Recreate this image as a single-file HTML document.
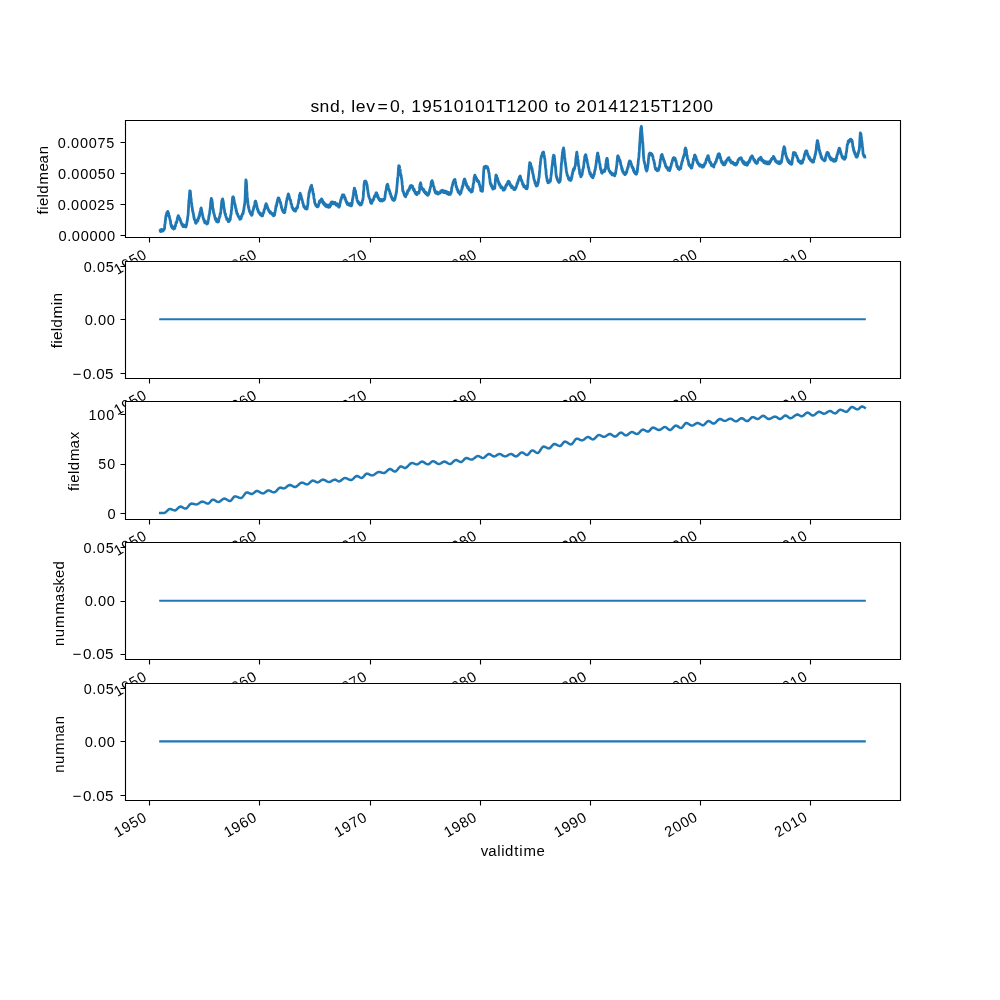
<!DOCTYPE html>
<html><head><meta charset="utf-8"><title>snd, lev=0, 19510101T1200 to 20141215T1200</title><style>html,body{margin:0;padding:0;background:#fff;overflow:hidden}svg{display:block;will-change:transform}text{font-family:"Liberation Sans",sans-serif;fill:#000}</style></head><body>
<svg width="1000" height="1000" viewBox="0 0 1000 1000" font-family="'Liberation Sans', sans-serif">
<rect width="1000" height="1000" fill="#fff"/>
<g>
<rect x="125" y="120" width="775" height="117.24" fill="#fff"/>
<clipPath id="c0"><rect x="125" y="120" width="775" height="117.24"/></clipPath>
<path clip-path="url(#c0)" d="M160.2 230.5 L160.4 231.5 L160.7 229.7 L160.9 231.5 L161.1 230.1 L161.3 230.3 L161.5 231.2 L161.7 230.3 L161.9 230.6 L162.1 229.4 L162.3 231.0 L162.6 230.5 L162.8 230.0 L163.0 231.0 L163.2 230.0 L163.4 230.3 L163.6 229.5 L163.8 230.1 L164.0 229.6 L164.2 229.1 L164.5 228.8 L164.7 225.9 L164.9 224.2 L165.1 223.2 L165.3 221.3 L165.5 219.5 L165.7 218.0 L165.9 216.4 L166.1 215.2 L166.4 216.0 L166.6 214.2 L166.8 212.6 L167.0 213.1 L167.2 213.0 L167.4 212.5 L167.6 213.1 L167.8 211.4 L168.0 212.8 L168.3 213.1 L168.5 212.8 L168.7 214.6 L168.9 215.8 L169.1 215.9 L169.3 215.9 L169.5 217.8 L169.7 217.9 L169.9 218.9 L170.2 220.5 L170.4 220.4 L170.6 223.0 L170.8 223.8 L171.0 225.1 L171.2 224.6 L171.4 226.5 L171.6 225.5 L171.8 225.6 L172.1 227.6 L172.3 227.9 L172.5 228.2 L172.7 227.5 L172.9 227.3 L173.1 226.9 L173.3 228.4 L173.5 228.7 L173.7 229.0 L174.0 227.8 L174.2 227.6 L174.4 228.4 L174.6 228.4 L174.8 228.3 L175.0 226.0 L175.2 226.1 L175.4 226.3 L175.6 224.6 L175.9 224.2 L176.1 222.3 L176.3 223.0 L176.5 223.0 L176.7 222.1 L176.9 221.4 L177.1 220.0 L177.3 218.3 L177.5 218.6 L177.8 216.7 L178.0 217.6 L178.2 215.7 L178.4 217.5 L178.6 216.2 L178.8 217.0 L179.0 217.2 L179.2 218.5 L179.4 217.8 L179.7 218.8 L179.9 218.5 L180.1 219.6 L180.3 220.4 L180.5 220.1 L180.7 221.7 L180.9 221.6 L181.1 222.8 L181.3 223.1 L181.6 223.1 L181.8 224.5 L182.0 224.4 L182.2 225.2 L182.4 224.5 L182.6 225.3 L182.8 224.7 L183.0 226.6 L183.2 225.0 L183.5 225.2 L183.7 224.9 L183.9 225.3 L184.1 226.5 L184.3 226.5 L184.5 225.3 L184.7 225.9 L184.9 226.0 L185.1 226.6 L185.4 226.2 L185.6 226.5 L185.8 227.0 L186.0 226.8 L186.2 225.8 L186.4 225.5 L186.6 224.6 L186.8 222.9 L187.0 221.9 L187.3 220.6 L187.5 219.1 L187.7 217.3 L187.9 216.1 L188.1 215.0 L188.3 211.6 L188.5 208.1 L188.7 204.4 L188.9 200.9 L189.2 199.1 L189.4 196.1 L189.6 193.4 L189.8 190.9 L190.0 191.2 L190.2 191.0 L190.4 192.1 L190.6 194.7 L190.8 197.4 L191.1 198.5 L191.3 201.7 L191.5 202.9 L191.7 203.5 L191.9 206.8 L192.1 207.0 L192.3 208.1 L192.5 210.7 L192.7 210.4 L193.0 212.9 L193.2 212.8 L193.4 214.3 L193.6 214.8 L193.8 217.0 L194.0 216.8 L194.2 219.0 L194.4 219.0 L194.6 220.0 L194.9 220.3 L195.1 220.5 L195.3 221.2 L195.5 222.8 L195.7 221.5 L195.9 223.4 L196.1 222.9 L196.3 221.9 L196.5 222.4 L196.8 221.6 L197.0 221.3 L197.2 221.2 L197.4 219.8 L197.6 220.4 L197.8 221.0 L198.0 219.0 L198.2 219.5 L198.4 218.3 L198.7 217.2 L198.9 218.2 L199.1 215.7 L199.3 215.6 L199.5 216.1 L199.7 213.3 L199.9 213.4 L200.1 211.7 L200.3 211.1 L200.6 209.8 L200.8 208.6 L201.0 209.3 L201.2 207.9 L201.4 209.4 L201.6 210.2 L201.8 211.6 L202.0 212.0 L202.2 213.3 L202.5 215.0 L202.7 215.3 L202.9 217.0 L203.1 217.3 L203.3 218.6 L203.5 219.0 L203.7 219.4 L203.9 219.4 L204.1 221.1 L204.4 220.4 L204.6 220.5 L204.8 222.8 L205.0 222.1 L205.2 222.8 L205.4 222.4 L205.6 222.8 L205.8 221.6 L206.0 222.1 L206.3 223.3 L206.5 223.2 L206.7 222.4 L206.9 224.2 L207.1 222.5 L207.3 223.3 L207.5 222.5 L207.7 223.5 L207.9 222.0 L208.2 220.7 L208.4 219.4 L208.6 218.4 L208.8 217.0 L209.0 216.3 L209.2 214.7 L209.4 214.5 L209.6 213.1 L209.8 211.2 L210.1 209.1 L210.3 207.5 L210.5 205.8 L210.7 202.0 L210.9 200.6 L211.1 199.9 L211.3 198.5 L211.5 199.4 L211.7 199.2 L212.0 200.3 L212.2 201.9 L212.4 203.3 L212.6 206.6 L212.8 208.1 L213.0 209.3 L213.2 209.2 L213.4 211.2 L213.6 212.9 L213.9 212.9 L214.1 214.5 L214.3 214.6 L214.5 215.6 L214.7 216.6 L214.9 217.6 L215.1 218.1 L215.3 219.4 L215.5 218.6 L215.8 218.3 L216.0 220.3 L216.2 219.0 L216.4 219.3 L216.6 221.5 L216.8 221.2 L217.0 220.5 L217.2 220.2 L217.4 220.9 L217.7 220.9 L217.9 222.1 L218.1 221.1 L218.3 220.2 L218.5 221.7 L218.7 220.6 L218.9 218.9 L219.1 218.2 L219.3 218.1 L219.6 216.4 L219.8 216.7 L220.0 215.7 L220.2 213.4 L220.4 214.1 L220.6 213.0 L220.8 211.9 L221.0 209.5 L221.2 207.6 L221.5 204.4 L221.7 202.1 L221.9 200.4 L222.1 201.0 L222.3 199.3 L222.5 199.7 L222.7 198.8 L222.9 200.7 L223.1 200.7 L223.4 202.6 L223.6 204.6 L223.8 206.8 L224.0 208.1 L224.2 209.0 L224.4 209.9 L224.6 211.3 L224.8 213.1 L225.0 213.0 L225.3 214.8 L225.5 213.9 L225.7 215.5 L225.9 216.6 L226.1 217.4 L226.3 217.1 L226.5 217.8 L226.7 219.4 L226.9 219.1 L227.2 219.3 L227.4 218.5 L227.6 218.8 L227.8 219.4 L228.0 219.5 L228.2 221.6 L228.4 219.7 L228.6 220.7 L228.8 220.1 L229.1 221.5 L229.3 220.3 L229.5 220.4 L229.7 220.2 L229.9 220.1 L230.1 219.8 L230.3 219.2 L230.5 216.6 L230.7 215.2 L231.0 214.8 L231.2 213.0 L231.4 210.0 L231.6 210.0 L231.8 208.0 L232.0 204.1 L232.2 202.6 L232.4 199.3 L232.6 197.6 L232.9 196.9 L233.1 196.8 L233.3 197.0 L233.5 197.7 L233.7 197.8 L233.9 200.0 L234.1 200.0 L234.3 202.6 L234.5 202.8 L234.8 203.5 L235.0 204.2 L235.2 205.7 L235.4 206.4 L235.6 207.9 L235.8 208.6 L236.0 208.5 L236.2 211.1 L236.4 210.2 L236.7 212.7 L236.9 213.3 L237.1 214.1 L237.3 214.1 L237.5 213.5 L237.7 214.7 L237.9 215.2 L238.1 216.1 L238.3 216.0 L238.6 217.1 L238.8 216.5 L239.0 217.1 L239.2 217.8 L239.4 217.8 L239.6 217.3 L239.8 219.3 L240.0 218.7 L240.2 219.0 L240.5 217.8 L240.7 218.9 L240.9 218.4 L241.1 218.5 L241.3 216.4 L241.5 216.7 L241.7 216.0 L241.9 216.1 L242.1 214.8 L242.4 213.9 L242.6 214.2 L242.8 213.9 L243.0 212.8 L243.2 213.4 L243.4 211.3 L243.6 210.1 L243.8 210.1 L244.0 208.0 L244.3 206.1 L244.5 204.4 L244.7 204.1 L244.9 202.1 L245.1 198.9 L245.3 193.3 L245.5 188.6 L245.7 182.4 L245.9 179.9 L246.2 180.8 L246.4 182.5 L246.6 185.4 L246.8 190.4 L247.0 192.5 L247.2 196.9 L247.4 198.3 L247.6 200.2 L247.8 202.0 L248.1 205.2 L248.3 205.9 L248.5 207.5 L248.7 206.8 L248.9 209.2 L249.1 209.6 L249.3 210.3 L249.5 211.6 L249.7 211.3 L250.0 212.3 L250.2 212.3 L250.4 213.1 L250.6 213.9 L250.8 213.4 L251.0 214.0 L251.2 214.5 L251.4 214.7 L251.6 215.4 L251.9 214.8 L252.1 214.2 L252.3 214.4 L252.5 212.2 L252.7 211.2 L252.9 211.1 L253.1 209.6 L253.3 209.7 L253.5 208.8 L253.8 207.0 L254.0 207.6 L254.2 206.4 L254.4 205.2 L254.6 205.3 L254.8 204.2 L255.0 202.0 L255.2 201.3 L255.4 202.6 L255.7 201.1 L255.9 202.8 L256.1 202.5 L256.3 203.5 L256.5 204.9 L256.7 206.7 L256.9 205.7 L257.1 207.0 L257.3 209.1 L257.6 208.9 L257.8 209.2 L258.0 211.1 L258.2 210.1 L258.4 211.5 L258.6 212.5 L258.8 212.4 L259.0 212.7 L259.2 213.0 L259.5 213.5 L259.7 212.6 L259.9 213.7 L260.1 214.3 L260.3 214.7 L260.5 214.9 L260.7 215.1 L260.9 213.6 L261.2 214.4 L261.4 214.7 L261.6 215.8 L261.8 214.9 L262.0 214.7 L262.2 214.2 L262.4 214.8 L262.6 215.9 L262.8 213.9 L263.1 213.7 L263.3 213.4 L263.5 213.1 L263.7 211.8 L263.9 212.1 L264.1 209.8 L264.3 209.7 L264.5 209.5 L264.7 209.1 L265.0 208.2 L265.2 205.8 L265.4 206.5 L265.6 205.6 L265.8 204.7 L266.0 203.7 L266.2 204.1 L266.4 205.6 L266.6 204.6 L266.9 205.6 L267.1 206.1 L267.3 207.8 L267.5 207.5 L267.7 207.5 L267.9 208.5 L268.1 208.8 L268.3 210.0 L268.5 209.5 L268.8 210.6 L269.0 210.6 L269.2 211.7 L269.4 211.7 L269.6 211.2 L269.8 211.7 L270.0 211.9 L270.2 213.1 L270.4 211.7 L270.7 212.5 L270.9 213.0 L271.1 212.9 L271.3 213.5 L271.5 213.4 L271.7 213.4 L271.9 214.2 L272.1 213.6 L272.3 214.3 L272.6 214.7 L272.8 213.6 L273.0 214.1 L273.2 215.6 L273.4 215.7 L273.6 215.8 L273.8 213.8 L274.0 215.5 L274.2 215.5 L274.5 215.0 L274.7 213.8 L274.9 212.8 L275.1 211.9 L275.3 210.4 L275.5 209.8 L275.7 208.2 L275.9 206.7 L276.1 205.6 L276.4 206.5 L276.6 205.3 L276.8 203.1 L277.0 203.6 L277.2 201.5 L277.4 201.4 L277.6 200.0 L277.8 199.1 L278.0 198.5 L278.3 197.9 L278.5 197.8 L278.7 197.8 L278.9 198.1 L279.1 200.0 L279.3 199.8 L279.5 199.4 L279.7 200.9 L279.9 201.5 L280.2 202.0 L280.4 202.0 L280.6 203.1 L280.8 204.7 L281.0 204.4 L281.2 205.6 L281.4 207.4 L281.6 206.8 L281.8 208.7 L282.1 208.9 L282.3 210.2 L282.5 209.7 L282.7 210.4 L282.9 210.3 L283.1 211.6 L283.3 212.0 L283.5 211.6 L283.7 212.5 L284.0 212.1 L284.2 212.5 L284.4 212.7 L284.6 211.3 L284.8 212.4 L285.0 210.4 L285.2 209.6 L285.4 207.7 L285.6 207.7 L285.9 205.3 L286.1 204.7 L286.3 202.5 L286.5 201.7 L286.7 200.9 L286.9 199.6 L287.1 198.1 L287.3 198.7 L287.5 198.1 L287.8 195.7 L288.0 194.8 L288.2 194.7 L288.4 193.8 L288.6 195.1 L288.8 194.7 L289.0 195.6 L289.2 196.9 L289.4 197.6 L289.7 198.6 L289.9 199.5 L290.1 199.6 L290.3 200.2 L290.5 200.0 L290.7 200.9 L290.9 202.6 L291.1 204.2 L291.3 204.2 L291.6 204.1 L291.8 205.4 L292.0 207.3 L292.2 206.6 L292.4 207.2 L292.6 207.7 L292.8 208.7 L293.0 209.5 L293.2 208.4 L293.5 209.5 L293.7 209.6 L293.9 209.6 L294.1 210.1 L294.3 210.8 L294.5 209.6 L294.7 210.3 L294.9 209.4 L295.1 210.3 L295.4 210.8 L295.6 211.1 L295.8 209.8 L296.0 209.1 L296.2 209.4 L296.4 208.6 L296.6 207.6 L296.8 208.1 L297.0 208.2 L297.3 207.9 L297.5 207.5 L297.7 205.6 L297.9 204.8 L298.1 203.8 L298.3 203.5 L298.5 203.0 L298.7 200.2 L298.9 199.9 L299.2 197.9 L299.4 195.4 L299.6 195.1 L299.8 194.7 L300.0 194.7 L300.2 193.1 L300.4 194.9 L300.6 195.4 L300.8 194.9 L301.1 195.9 L301.3 198.2 L301.5 197.8 L301.7 198.5 L301.9 200.2 L302.1 199.5 L302.3 201.0 L302.5 201.4 L302.7 202.5 L303.0 203.4 L303.2 204.2 L303.4 204.4 L303.6 206.0 L303.8 206.5 L304.0 207.2 L304.2 206.5 L304.4 207.4 L304.6 207.0 L304.9 206.8 L305.1 207.8 L305.3 208.6 L305.5 208.4 L305.7 207.4 L305.9 207.4 L306.1 208.7 L306.3 208.6 L306.5 209.0 L306.8 207.5 L307.0 209.1 L307.2 207.9 L307.4 206.7 L307.6 205.4 L307.8 205.1 L308.0 203.1 L308.2 199.1 L308.4 197.6 L308.7 196.7 L308.9 193.7 L309.1 192.6 L309.3 191.7 L309.5 192.6 L309.7 190.5 L309.9 189.6 L310.1 189.8 L310.3 188.0 L310.6 188.2 L310.8 186.9 L311.0 186.3 L311.2 186.1 L311.4 185.5 L311.6 185.3 L311.8 187.4 L312.0 188.1 L312.2 188.0 L312.5 189.6 L312.7 191.2 L312.9 191.3 L313.1 193.3 L313.3 194.6 L313.5 194.1 L313.7 195.3 L313.9 197.9 L314.1 199.1 L314.4 199.3 L314.6 202.0 L314.8 203.1 L315.0 203.1 L315.2 204.0 L315.4 204.0 L315.6 205.0 L315.8 204.5 L316.0 205.7 L316.3 206.0 L316.5 206.1 L316.7 205.1 L316.9 206.4 L317.1 206.8 L317.3 205.5 L317.5 206.5 L317.7 206.9 L317.9 205.2 L318.2 206.3 L318.4 205.9 L318.6 204.8 L318.8 204.5 L319.0 202.6 L319.2 202.9 L319.4 203.1 L319.6 200.8 L319.8 202.2 L320.1 200.6 L320.3 201.5 L320.5 200.8 L320.7 200.9 L320.9 199.8 L321.1 199.7 L321.3 200.7 L321.5 198.8 L321.7 199.0 L322.0 201.1 L322.2 201.3 L322.4 200.0 L322.6 202.3 L322.8 201.2 L323.0 203.1 L323.2 203.5 L323.4 201.9 L323.6 202.1 L323.9 203.0 L324.1 204.6 L324.3 204.5 L324.5 203.8 L324.7 205.0 L324.9 204.0 L325.1 204.3 L325.3 204.1 L325.5 206.0 L325.8 205.8 L326.0 205.2 L326.2 204.8 L326.4 206.5 L326.6 205.3 L326.8 205.0 L327.0 205.5 L327.2 206.3 L327.4 206.5 L327.7 205.1 L327.9 207.0 L328.1 206.5 L328.3 205.2 L328.5 206.9 L328.7 207.3 L328.9 207.0 L329.1 205.2 L329.3 206.2 L329.6 206.5 L329.8 207.0 L330.0 205.8 L330.2 204.5 L330.4 205.8 L330.6 205.4 L330.8 203.8 L331.0 202.5 L331.2 203.9 L331.5 203.5 L331.7 204.0 L331.9 201.9 L332.1 202.9 L332.3 202.6 L332.5 202.2 L332.7 203.6 L332.9 202.8 L333.1 202.1 L333.4 202.4 L333.6 203.9 L333.8 203.5 L334.0 202.7 L334.2 203.8 L334.4 202.6 L334.6 203.8 L334.8 203.9 L335.0 202.5 L335.3 203.7 L335.5 204.3 L335.7 204.4 L335.9 204.4 L336.1 204.9 L336.3 204.7 L336.5 205.3 L336.7 204.3 L336.9 203.7 L337.2 204.3 L337.4 204.7 L337.6 204.4 L337.8 204.7 L338.0 205.8 L338.2 205.4 L338.4 205.6 L338.6 206.8 L338.8 207.1 L339.1 207.1 L339.3 205.8 L339.5 206.1 L339.7 205.8 L339.9 203.5 L340.1 202.7 L340.3 202.8 L340.5 201.1 L340.7 200.1 L341.0 199.8 L341.2 198.5 L341.4 198.7 L341.6 197.2 L341.8 197.0 L342.0 196.3 L342.2 195.9 L342.4 195.0 L342.6 195.4 L342.9 195.7 L343.1 194.9 L343.3 196.2 L343.5 196.3 L343.7 195.3 L343.9 195.0 L344.1 197.0 L344.3 196.2 L344.5 196.8 L344.8 197.7 L345.0 199.0 L345.2 197.9 L345.4 198.8 L345.6 199.8 L345.8 200.6 L346.0 200.2 L346.2 201.7 L346.4 202.1 L346.7 202.9 L346.9 202.0 L347.1 202.2 L347.3 204.3 L347.5 204.1 L347.7 204.2 L347.9 204.6 L348.1 204.8 L348.3 203.7 L348.6 204.6 L348.8 204.4 L349.0 204.3 L349.2 204.7 L349.4 204.0 L349.6 205.3 L349.8 204.3 L350.0 203.8 L350.2 203.6 L350.5 205.0 L350.7 204.1 L350.9 205.8 L351.1 204.1 L351.3 204.4 L351.5 205.9 L351.7 204.5 L351.9 204.6 L352.1 203.2 L352.4 200.4 L352.6 199.1 L352.8 198.1 L353.0 197.9 L353.2 195.4 L353.4 194.2 L353.6 192.7 L353.8 190.9 L354.0 190.6 L354.3 188.1 L354.5 188.1 L354.7 189.6 L354.9 189.6 L355.1 190.1 L355.3 190.6 L355.5 191.1 L355.7 192.8 L355.9 194.9 L356.2 194.8 L356.4 195.7 L356.6 197.6 L356.8 198.4 L357.0 199.7 L357.2 200.6 L357.4 200.8 L357.6 200.7 L357.8 202.0 L358.1 201.7 L358.3 203.0 L358.5 201.8 L358.7 202.8 L358.9 203.8 L359.1 203.2 L359.3 203.7 L359.5 202.8 L359.7 203.4 L360.0 205.0 L360.2 204.4 L360.4 203.9 L360.6 204.3 L360.8 204.9 L361.0 204.9 L361.2 204.9 L361.4 203.5 L361.6 203.0 L361.9 203.4 L362.1 202.6 L362.3 202.0 L362.5 200.5 L362.7 199.9 L362.9 199.9 L363.1 197.9 L363.3 196.4 L363.5 191.8 L363.8 190.4 L364.0 185.5 L364.2 183.4 L364.4 182.8 L364.6 181.2 L364.8 181.1 L365.0 182.9 L365.2 182.8 L365.4 182.1 L365.7 181.2 L365.9 182.6 L366.1 182.0 L366.3 182.1 L366.5 184.0 L366.7 183.8 L366.9 184.3 L367.1 184.8 L367.3 187.0 L367.6 189.7 L367.8 190.1 L368.0 191.7 L368.2 193.7 L368.4 194.1 L368.6 195.5 L368.8 196.8 L369.0 196.4 L369.2 197.6 L369.5 198.5 L369.7 198.7 L369.9 199.0 L370.1 199.4 L370.3 200.9 L370.5 202.2 L370.7 200.6 L370.9 202.7 L371.1 203.2 L371.4 202.4 L371.6 203.3 L371.8 202.6 L372.0 202.1 L372.2 201.6 L372.4 201.3 L372.6 201.3 L372.8 199.9 L373.0 200.5 L373.3 199.5 L373.5 199.4 L373.7 199.6 L373.9 197.6 L374.1 197.6 L374.3 196.9 L374.5 196.0 L374.7 196.7 L374.9 196.3 L375.2 196.6 L375.4 195.3 L375.6 194.4 L375.8 195.2 L376.0 192.9 L376.2 193.4 L376.4 194.3 L376.6 193.0 L376.8 193.7 L377.1 195.2 L377.3 194.6 L377.5 194.9 L377.7 197.0 L377.9 195.8 L378.1 198.1 L378.3 197.3 L378.5 197.4 L378.7 198.3 L379.0 198.5 L379.2 199.8 L379.4 199.6 L379.6 199.1 L379.8 199.6 L380.0 199.2 L380.2 200.8 L380.4 199.6 L380.6 200.8 L380.9 200.3 L381.1 200.9 L381.3 199.7 L381.5 199.8 L381.7 199.7 L381.9 200.7 L382.1 201.0 L382.3 200.7 L382.5 199.8 L382.8 200.7 L383.0 200.4 L383.2 199.9 L383.4 199.2 L383.6 199.3 L383.8 200.3 L384.0 199.1 L384.2 199.7 L384.4 199.7 L384.7 198.6 L384.9 197.5 L385.1 195.6 L385.3 194.1 L385.5 192.7 L385.7 191.5 L385.9 190.8 L386.1 190.4 L386.3 188.7 L386.6 186.7 L386.8 185.6 L387.0 185.0 L387.2 185.4 L387.4 185.1 L387.6 184.1 L387.8 185.5 L388.0 185.4 L388.3 187.5 L388.5 188.3 L388.7 188.3 L388.9 189.5 L389.1 190.1 L389.3 191.1 L389.5 190.6 L389.7 191.1 L389.9 192.9 L390.2 194.0 L390.4 193.1 L390.6 194.5 L390.8 195.2 L391.0 195.4 L391.2 196.9 L391.4 196.1 L391.6 197.1 L391.8 197.6 L392.1 199.1 L392.3 198.8 L392.5 199.1 L392.7 200.0 L392.9 198.5 L393.1 199.6 L393.3 198.7 L393.5 198.9 L393.7 200.2 L394.0 200.5 L394.2 200.0 L394.4 199.7 L394.6 199.8 L394.8 199.7 L395.0 198.9 L395.2 197.9 L395.4 196.2 L395.6 196.0 L395.9 193.9 L396.1 194.3 L396.3 191.8 L396.5 192.1 L396.7 189.2 L396.9 187.2 L397.1 185.1 L397.3 182.9 L397.5 179.6 L397.8 177.2 L398.0 176.2 L398.2 174.0 L398.4 169.5 L398.6 167.6 L398.8 165.7 L399.0 165.9 L399.2 165.9 L399.4 166.2 L399.7 168.2 L399.9 169.1 L400.1 169.7 L400.3 172.4 L400.5 172.9 L400.7 174.9 L400.9 175.3 L401.1 175.2 L401.3 177.6 L401.6 178.5 L401.8 180.1 L402.0 181.9 L402.2 184.7 L402.4 185.6 L402.6 188.6 L402.8 191.1 L403.0 190.4 L403.2 191.0 L403.5 192.2 L403.7 193.1 L403.9 193.3 L404.1 194.0 L404.3 194.9 L404.5 195.6 L404.7 194.3 L404.9 195.2 L405.1 195.9 L405.4 194.7 L405.6 196.8 L405.8 196.0 L406.0 195.5 L406.2 195.1 L406.4 194.1 L406.6 193.5 L406.8 194.3 L407.0 194.3 L407.3 193.5 L407.5 191.3 L407.7 190.8 L407.9 191.3 L408.1 190.9 L408.3 190.6 L408.5 190.8 L408.7 190.5 L408.9 190.3 L409.2 188.5 L409.4 188.3 L409.6 189.1 L409.8 188.1 L410.0 186.3 L410.2 187.8 L410.4 186.8 L410.6 185.6 L410.8 185.7 L411.1 186.0 L411.3 186.1 L411.5 185.5 L411.7 186.3 L411.9 186.0 L412.1 187.2 L412.3 187.3 L412.5 186.1 L412.7 186.5 L413.0 188.6 L413.2 188.5 L413.4 189.8 L413.6 189.1 L413.8 188.9 L414.0 189.0 L414.2 191.0 L414.4 189.9 L414.6 191.5 L414.9 191.8 L415.1 192.6 L415.3 193.4 L415.5 192.2 L415.7 193.1 L415.9 194.0 L416.1 193.0 L416.3 192.9 L416.5 193.0 L416.8 194.7 L417.0 194.4 L417.2 193.0 L417.4 192.5 L417.6 193.7 L417.8 192.9 L418.0 192.5 L418.2 192.3 L418.4 192.6 L418.7 192.1 L418.9 193.2 L419.1 192.0 L419.3 191.6 L419.5 190.0 L419.7 188.0 L419.9 185.3 L420.1 184.2 L420.3 183.8 L420.6 182.8 L420.8 185.3 L421.0 184.1 L421.2 185.7 L421.4 186.7 L421.6 187.6 L421.8 187.7 L422.0 188.4 L422.2 189.1 L422.5 189.1 L422.7 189.5 L422.9 190.2 L423.1 188.8 L423.3 190.1 L423.5 189.3 L423.7 189.8 L423.9 189.8 L424.1 191.9 L424.4 190.9 L424.6 191.6 L424.8 192.4 L425.0 192.4 L425.2 193.1 L425.4 192.4 L425.6 193.1 L425.8 193.7 L426.0 192.3 L426.3 193.3 L426.5 192.7 L426.7 193.9 L426.9 193.6 L427.1 194.9 L427.3 194.2 L427.5 193.7 L427.7 195.4 L427.9 194.5 L428.2 193.7 L428.4 194.3 L428.6 194.5 L428.8 193.5 L429.0 193.2 L429.2 192.7 L429.4 191.9 L429.6 191.1 L429.8 189.7 L430.1 188.6 L430.3 187.9 L430.5 186.8 L430.7 186.8 L430.9 185.9 L431.1 183.1 L431.3 182.4 L431.5 181.4 L431.7 181.2 L432.0 180.6 L432.2 181.3 L432.4 181.4 L432.6 182.2 L432.8 182.6 L433.0 183.4 L433.2 185.4 L433.4 185.8 L433.6 186.3 L433.9 187.1 L434.1 187.2 L434.3 189.8 L434.5 190.0 L434.7 189.8 L434.9 191.4 L435.1 191.7 L435.3 191.5 L435.5 193.0 L435.8 193.2 L436.0 192.4 L436.2 192.4 L436.4 191.9 L436.6 191.9 L436.8 192.5 L437.0 192.3 L437.2 192.1 L437.4 193.6 L437.7 194.1 L437.9 193.6 L438.1 194.1 L438.3 194.1 L438.5 193.6 L438.7 193.3 L438.9 193.0 L439.1 193.3 L439.3 192.8 L439.6 192.4 L439.8 192.9 L440.0 193.1 L440.2 192.8 L440.4 192.9 L440.6 191.8 L440.8 190.8 L441.0 191.1 L441.2 191.1 L441.5 191.5 L441.7 191.0 L441.9 191.6 L442.1 190.6 L442.3 191.1 L442.5 190.1 L442.7 191.7 L442.9 192.1 L443.1 192.2 L443.4 192.3 L443.6 190.8 L443.8 192.6 L444.0 191.8 L444.2 191.0 L444.4 190.9 L444.6 190.9 L444.8 192.3 L445.0 192.3 L445.3 192.7 L445.5 192.5 L445.7 192.3 L445.9 191.6 L446.1 192.9 L446.3 191.4 L446.5 192.9 L446.7 191.9 L446.9 192.0 L447.2 193.7 L447.4 193.9 L447.6 193.5 L447.8 192.5 L448.0 193.1 L448.2 192.9 L448.4 192.5 L448.6 192.9 L448.8 192.5 L449.1 194.6 L449.3 193.1 L449.5 193.4 L449.7 193.2 L449.9 194.1 L450.1 193.9 L450.3 194.4 L450.5 192.7 L450.7 192.9 L451.0 193.1 L451.2 192.1 L451.4 191.5 L451.6 188.7 L451.8 188.0 L452.0 186.9 L452.2 186.1 L452.4 184.9 L452.6 185.1 L452.9 183.1 L453.1 182.4 L453.3 182.3 L453.5 181.3 L453.7 181.4 L453.9 181.4 L454.1 179.9 L454.3 180.4 L454.5 180.4 L454.8 180.3 L455.0 179.3 L455.2 181.5 L455.4 182.2 L455.6 182.3 L455.8 183.9 L456.0 185.6 L456.2 186.8 L456.4 186.3 L456.7 188.0 L456.9 187.8 L457.1 189.5 L457.3 189.9 L457.5 189.3 L457.7 189.8 L457.9 190.5 L458.1 192.1 L458.3 190.7 L458.6 192.0 L458.8 192.6 L459.0 193.0 L459.2 191.9 L459.4 193.2 L459.6 193.1 L459.8 192.9 L460.0 194.3 L460.2 192.3 L460.5 193.4 L460.7 191.9 L460.9 193.1 L461.1 191.6 L461.3 190.8 L461.5 189.7 L461.7 189.6 L461.9 189.6 L462.1 187.2 L462.4 187.8 L462.6 186.0 L462.8 185.4 L463.0 185.8 L463.2 183.1 L463.4 183.5 L463.6 181.1 L463.8 181.2 L464.0 180.7 L464.3 179.1 L464.5 180.4 L464.7 179.2 L464.9 180.1 L465.1 180.0 L465.3 181.8 L465.5 181.4 L465.7 182.2 L465.9 182.4 L466.2 185.0 L466.4 183.7 L466.6 184.7 L466.8 185.9 L467.0 185.6 L467.2 186.5 L467.4 186.4 L467.6 187.9 L467.8 186.6 L468.1 186.6 L468.3 187.1 L468.5 188.4 L468.7 188.8 L468.9 189.6 L469.1 190.1 L469.3 189.1 L469.5 190.2 L469.7 189.5 L470.0 189.7 L470.2 189.4 L470.4 191.2 L470.6 190.2 L470.8 191.1 L471.0 190.9 L471.2 192.1 L471.4 190.6 L471.6 191.4 L471.9 191.9 L472.1 190.6 L472.3 191.5 L472.5 190.0 L472.7 187.7 L472.9 188.1 L473.1 185.3 L473.3 184.0 L473.5 183.3 L473.8 182.3 L474.0 179.0 L474.2 177.1 L474.4 177.1 L474.6 175.9 L474.8 175.1 L475.0 175.6 L475.2 176.5 L475.4 176.7 L475.7 176.6 L475.9 177.9 L476.1 178.5 L476.3 178.8 L476.5 178.0 L476.7 179.5 L476.9 180.1 L477.1 181.1 L477.3 180.6 L477.6 181.1 L477.8 181.6 L478.0 180.5 L478.2 180.7 L478.4 180.9 L478.6 181.4 L478.8 182.1 L479.0 182.1 L479.2 183.9 L479.5 184.6 L479.7 185.3 L479.9 185.3 L480.1 187.4 L480.3 187.4 L480.5 188.0 L480.7 190.3 L480.9 190.9 L481.1 189.1 L481.4 190.5 L481.6 189.2 L481.8 190.4 L482.0 190.5 L482.2 190.5 L482.4 191.4 L482.6 190.1 L482.8 186.8 L483.0 184.6 L483.3 178.7 L483.5 174.7 L483.7 170.7 L483.9 169.1 L484.1 167.0 L484.3 167.4 L484.5 167.4 L484.7 167.5 L484.9 168.1 L485.2 166.6 L485.4 166.6 L485.6 167.2 L485.8 166.2 L486.0 166.8 L486.2 166.3 L486.4 167.0 L486.6 166.9 L486.8 167.3 L487.1 167.0 L487.3 167.0 L487.5 166.9 L487.7 168.8 L487.9 168.5 L488.1 168.7 L488.3 170.2 L488.5 170.6 L488.7 172.4 L489.0 172.8 L489.2 174.3 L489.4 176.6 L489.6 178.1 L489.8 178.5 L490.0 180.8 L490.2 182.8 L490.4 183.7 L490.6 184.2 L490.9 183.6 L491.1 185.7 L491.3 184.6 L491.5 185.6 L491.7 185.5 L491.9 187.0 L492.1 187.7 L492.3 187.9 L492.5 186.7 L492.8 189.0 L493.0 187.6 L493.2 188.5 L493.4 188.9 L493.6 188.6 L493.8 188.1 L494.0 188.1 L494.2 187.2 L494.4 187.7 L494.7 188.3 L494.9 186.5 L495.1 184.2 L495.3 181.7 L495.5 178.5 L495.7 177.9 L495.9 175.4 L496.1 175.1 L496.3 176.4 L496.6 175.7 L496.8 178.1 L497.0 177.9 L497.2 177.6 L497.4 178.1 L497.6 180.1 L497.8 179.5 L498.0 180.1 L498.2 181.4 L498.5 182.0 L498.7 183.3 L498.9 182.2 L499.1 184.4 L499.3 183.8 L499.5 185.3 L499.7 184.2 L499.9 184.3 L500.1 185.6 L500.4 185.5 L500.6 186.4 L500.8 187.4 L501.0 187.8 L501.2 186.3 L501.4 186.9 L501.6 187.3 L501.8 187.2 L502.0 188.1 L502.3 187.4 L502.5 187.9 L502.7 187.8 L502.9 188.8 L503.1 190.0 L503.3 188.4 L503.5 190.1 L503.7 188.9 L503.9 189.8 L504.2 190.0 L504.4 189.4 L504.6 189.4 L504.8 188.9 L505.0 189.1 L505.2 188.4 L505.4 187.1 L505.6 186.3 L505.8 185.6 L506.1 185.9 L506.3 184.8 L506.5 184.4 L506.7 185.5 L506.9 184.7 L507.1 183.8 L507.3 184.0 L507.5 182.9 L507.7 182.2 L508.0 182.5 L508.2 182.1 L508.4 181.1 L508.6 181.3 L508.8 182.0 L509.0 181.5 L509.2 183.3 L509.4 181.8 L509.6 184.1 L509.9 184.8 L510.1 184.5 L510.3 184.1 L510.5 185.9 L510.7 185.5 L510.9 186.4 L511.1 185.7 L511.3 185.7 L511.5 187.6 L511.8 185.8 L512.0 186.0 L512.2 187.8 L512.4 188.0 L512.6 187.2 L512.8 187.5 L513.0 188.3 L513.2 188.3 L513.5 188.6 L513.7 188.2 L513.9 189.5 L514.1 187.8 L514.3 189.0 L514.5 188.1 L514.7 188.4 L514.9 188.4 L515.1 189.5 L515.4 188.8 L515.6 188.0 L515.8 188.1 L516.0 187.5 L516.2 187.2 L516.4 186.0 L516.6 185.7 L516.8 185.3 L517.0 183.8 L517.3 183.0 L517.5 183.7 L517.7 182.2 L517.9 183.0 L518.1 180.7 L518.3 180.5 L518.5 180.7 L518.7 178.9 L518.9 178.8 L519.2 177.8 L519.4 177.1 L519.6 176.6 L519.8 177.9 L520.0 176.3 L520.2 176.0 L520.4 178.1 L520.6 176.9 L520.8 178.8 L521.1 179.3 L521.3 180.2 L521.5 181.0 L521.7 180.4 L521.9 180.7 L522.1 182.1 L522.3 182.6 L522.5 182.7 L522.7 184.5 L523.0 183.5 L523.2 184.8 L523.4 185.4 L523.6 184.7 L523.8 186.8 L524.0 186.2 L524.2 186.7 L524.4 186.2 L524.6 186.9 L524.9 187.1 L525.1 187.5 L525.3 186.4 L525.5 187.3 L525.7 187.5 L525.9 188.6 L526.1 187.9 L526.3 188.1 L526.5 187.6 L526.8 187.8 L527.0 188.9 L527.2 187.3 L527.4 187.4 L527.6 184.8 L527.8 183.4 L528.0 180.2 L528.2 178.4 L528.4 176.3 L528.7 173.3 L528.9 170.7 L529.1 169.5 L529.3 165.8 L529.5 165.0 L529.7 162.6 L529.9 163.2 L530.1 163.2 L530.3 163.3 L530.6 163.6 L530.8 165.8 L531.0 165.8 L531.2 166.0 L531.4 166.8 L531.6 168.1 L531.8 168.5 L532.0 168.3 L532.2 169.5 L532.5 172.1 L532.7 172.6 L532.9 173.9 L533.1 174.1 L533.3 175.2 L533.5 176.4 L533.7 177.6 L533.9 178.9 L534.1 179.2 L534.4 180.5 L534.6 180.6 L534.8 181.5 L535.0 183.1 L535.2 181.7 L535.4 183.6 L535.6 184.4 L535.8 183.7 L536.0 185.6 L536.3 184.3 L536.5 186.1 L536.7 185.0 L536.9 185.6 L537.1 185.5 L537.3 185.6 L537.5 185.2 L537.7 183.1 L537.9 183.9 L538.2 182.2 L538.4 181.8 L538.6 178.9 L538.8 178.2 L539.0 178.0 L539.2 175.8 L539.4 173.5 L539.6 171.2 L539.8 169.7 L540.1 165.2 L540.3 164.9 L540.5 161.6 L540.7 160.5 L540.9 158.4 L541.1 158.3 L541.3 156.0 L541.5 156.1 L541.7 156.2 L542.0 156.1 L542.2 154.5 L542.4 153.0 L542.6 154.1 L542.8 153.5 L543.0 152.2 L543.2 152.1 L543.4 152.7 L543.6 152.1 L543.9 154.3 L544.1 155.5 L544.3 156.2 L544.5 157.9 L544.7 158.3 L544.9 159.5 L545.1 162.5 L545.3 164.9 L545.5 167.2 L545.8 168.9 L546.0 171.2 L546.2 174.7 L546.4 175.6 L546.6 177.0 L546.8 178.3 L547.0 178.6 L547.2 180.8 L547.4 180.2 L547.7 181.3 L547.9 182.7 L548.1 182.4 L548.3 182.0 L548.5 182.9 L548.7 181.6 L548.9 181.3 L549.1 181.0 L549.3 182.2 L549.6 182.0 L549.8 181.7 L550.0 181.4 L550.2 180.8 L550.4 181.2 L550.6 179.6 L550.8 177.6 L551.0 176.2 L551.2 174.4 L551.5 172.6 L551.7 169.7 L551.9 167.9 L552.1 165.9 L552.3 165.1 L552.5 163.5 L552.7 160.5 L552.9 159.8 L553.1 157.0 L553.4 157.4 L553.6 155.2 L553.8 155.6 L554.0 155.7 L554.2 155.6 L554.4 158.2 L554.6 158.8 L554.8 161.6 L555.0 163.4 L555.3 166.3 L555.5 166.9 L555.7 169.1 L555.9 172.7 L556.1 174.1 L556.3 176.3 L556.5 176.5 L556.7 178.0 L556.9 177.3 L557.2 178.6 L557.4 179.6 L557.6 180.3 L557.8 179.5 L558.0 180.3 L558.2 181.5 L558.4 180.0 L558.6 181.8 L558.8 181.8 L559.1 182.5 L559.3 181.6 L559.5 181.6 L559.7 181.9 L559.9 181.5 L560.1 180.6 L560.3 180.2 L560.5 177.3 L560.7 174.3 L561.0 171.1 L561.2 167.0 L561.4 163.6 L561.6 162.9 L561.8 161.1 L562.0 157.5 L562.2 156.3 L562.4 153.9 L562.6 152.8 L562.9 149.9 L563.1 150.7 L563.3 149.8 L563.5 147.9 L563.7 149.4 L563.9 149.8 L564.1 151.2 L564.3 154.5 L564.5 156.4 L564.8 158.1 L565.0 160.0 L565.2 162.1 L565.4 162.7 L565.6 164.8 L565.8 165.9 L566.0 168.1 L566.2 169.1 L566.4 170.9 L566.7 172.9 L566.9 173.0 L567.1 174.6 L567.3 175.5 L567.5 175.7 L567.7 176.0 L567.9 176.4 L568.1 176.2 L568.3 178.2 L568.6 179.1 L568.8 177.9 L569.0 179.3 L569.2 179.5 L569.4 180.2 L569.6 180.2 L569.8 179.3 L570.0 179.4 L570.2 179.9 L570.5 179.6 L570.7 180.5 L570.9 179.0 L571.1 179.9 L571.3 179.5 L571.5 177.1 L571.7 178.1 L571.9 177.1 L572.1 174.4 L572.4 174.5 L572.6 172.4 L572.8 172.5 L573.0 170.7 L573.2 171.1 L573.4 169.3 L573.6 168.8 L573.8 170.3 L574.0 169.6 L574.3 169.0 L574.5 168.9 L574.7 167.2 L574.9 166.5 L575.1 166.2 L575.3 165.8 L575.5 163.8 L575.7 161.5 L575.9 158.5 L576.2 156.4 L576.4 155.1 L576.6 153.4 L576.8 152.1 L577.0 153.0 L577.2 155.0 L577.4 156.6 L577.6 156.6 L577.8 158.7 L578.1 160.6 L578.3 163.4 L578.5 165.7 L578.7 166.1 L578.9 167.0 L579.1 169.5 L579.3 169.4 L579.5 171.3 L579.7 173.2 L580.0 174.3 L580.2 173.6 L580.4 174.8 L580.6 175.6 L580.8 176.8 L581.0 176.7 L581.2 176.3 L581.4 175.6 L581.6 174.9 L581.9 174.9 L582.1 174.6 L582.3 172.8 L582.5 171.7 L582.7 170.2 L582.9 169.5 L583.1 168.6 L583.3 168.1 L583.5 167.4 L583.8 164.9 L584.0 162.6 L584.2 160.9 L584.4 160.9 L584.6 158.6 L584.8 156.5 L585.0 156.6 L585.2 156.1 L585.4 154.8 L585.7 154.7 L585.9 155.0 L586.1 155.6 L586.3 157.6 L586.5 158.3 L586.7 159.9 L586.9 159.1 L587.1 160.5 L587.3 162.4 L587.6 163.4 L587.8 164.0 L588.0 165.1 L588.2 167.0 L588.4 167.2 L588.6 167.5 L588.8 169.0 L589.0 169.5 L589.2 171.0 L589.5 171.7 L589.7 172.6 L589.9 173.8 L590.1 173.2 L590.3 172.6 L590.5 174.0 L590.7 174.4 L590.9 175.4 L591.1 176.0 L591.4 174.7 L591.6 176.6 L591.8 175.3 L592.0 176.4 L592.2 175.4 L592.4 177.4 L592.6 176.5 L592.8 176.2 L593.0 177.8 L593.3 175.7 L593.5 176.0 L593.7 175.7 L593.9 174.6 L594.1 174.1 L594.3 174.3 L594.5 171.9 L594.7 171.8 L594.9 170.0 L595.2 169.9 L595.4 168.1 L595.6 167.2 L595.8 166.4 L596.0 164.3 L596.2 163.7 L596.4 160.8 L596.6 160.4 L596.8 158.4 L597.1 155.7 L597.3 155.3 L597.5 153.3 L597.7 153.1 L597.9 153.4 L598.1 154.8 L598.3 155.6 L598.5 156.7 L598.7 157.4 L599.0 159.2 L599.2 161.5 L599.4 162.4 L599.6 163.0 L599.8 163.5 L600.0 164.5 L600.2 167.5 L600.4 167.4 L600.6 169.4 L600.9 169.0 L601.1 170.6 L601.3 170.6 L601.5 172.5 L601.7 171.5 L601.9 172.4 L602.1 173.3 L602.3 172.8 L602.5 172.3 L602.8 171.8 L603.0 172.1 L603.2 170.8 L603.4 171.0 L603.6 171.1 L603.8 170.4 L604.0 170.6 L604.2 170.8 L604.4 171.5 L604.7 171.4 L604.9 169.1 L605.1 169.8 L605.3 169.5 L605.5 168.4 L605.7 165.5 L605.9 163.5 L606.1 162.4 L606.3 160.9 L606.6 159.3 L606.8 158.5 L607.0 159.1 L607.2 158.4 L607.4 159.4 L607.6 161.1 L607.8 163.3 L608.0 164.5 L608.2 166.7 L608.5 168.8 L608.7 169.2 L608.9 169.7 L609.1 170.7 L609.3 171.1 L609.5 170.8 L609.7 171.5 L609.9 171.2 L610.1 172.0 L610.4 173.1 L610.6 172.5 L610.8 172.6 L611.0 173.3 L611.2 173.1 L611.4 172.5 L611.6 173.4 L611.8 173.0 L612.0 174.9 L612.3 174.7 L612.5 174.2 L612.7 173.6 L612.9 173.8 L613.1 174.3 L613.3 175.0 L613.5 174.2 L613.7 174.9 L613.9 174.5 L614.2 174.4 L614.4 174.5 L614.6 174.4 L614.8 175.8 L615.0 173.9 L615.2 173.2 L615.4 174.0 L615.6 173.4 L615.8 171.9 L616.1 169.4 L616.3 168.4 L616.5 167.3 L616.7 165.7 L616.9 164.3 L617.1 160.9 L617.3 160.2 L617.5 157.5 L617.7 156.1 L618.0 155.8 L618.2 157.0 L618.4 157.8 L618.6 157.7 L618.8 157.3 L619.0 159.1 L619.2 159.0 L619.4 159.7 L619.6 160.9 L619.9 161.0 L620.1 160.4 L620.3 162.3 L620.5 162.3 L620.7 164.4 L620.9 164.9 L621.1 165.8 L621.3 165.9 L621.5 166.6 L621.8 169.4 L622.0 167.9 L622.2 168.4 L622.4 169.7 L622.6 171.2 L622.8 170.8 L623.0 172.2 L623.2 172.0 L623.4 172.6 L623.7 172.9 L623.9 173.5 L624.1 173.8 L624.3 172.7 L624.5 173.7 L624.7 173.5 L624.9 174.7 L625.1 173.9 L625.3 173.6 L625.6 172.8 L625.8 174.2 L626.0 172.3 L626.2 173.2 L626.4 171.8 L626.6 172.1 L626.8 172.1 L627.0 169.9 L627.2 169.6 L627.5 168.9 L627.7 167.3 L627.9 167.9 L628.1 167.2 L628.3 166.6 L628.5 164.6 L628.7 163.4 L628.9 163.3 L629.1 162.0 L629.4 161.8 L629.6 160.8 L629.8 161.5 L630.0 161.5 L630.2 161.6 L630.4 162.0 L630.6 161.6 L630.8 163.0 L631.0 163.9 L631.3 163.8 L631.5 164.9 L631.7 165.9 L631.9 165.8 L632.1 167.2 L632.3 167.4 L632.5 167.5 L632.7 167.0 L632.9 168.5 L633.2 168.1 L633.4 170.7 L633.6 169.2 L633.8 170.0 L634.0 170.3 L634.2 172.1 L634.4 172.5 L634.6 172.4 L634.8 172.9 L635.1 171.8 L635.3 173.5 L635.5 171.9 L635.7 172.6 L635.9 173.9 L636.1 173.6 L636.3 174.2 L636.5 174.1 L636.7 172.3 L637.0 172.1 L637.2 172.2 L637.4 170.2 L637.6 168.8 L637.8 165.4 L638.0 165.5 L638.2 162.6 L638.4 159.8 L638.7 158.7 L638.9 156.9 L639.1 153.2 L639.3 151.2 L639.5 147.9 L639.7 143.9 L639.9 142.1 L640.1 138.9 L640.3 134.8 L640.6 131.3 L640.8 128.5 L641.0 127.6 L641.2 127.3 L641.4 126.4 L641.6 128.1 L641.8 132.1 L642.0 134.5 L642.2 136.3 L642.5 140.4 L642.7 142.0 L642.9 144.6 L643.1 148.1 L643.3 151.3 L643.5 155.3 L643.7 157.3 L643.9 159.7 L644.1 161.1 L644.4 162.0 L644.6 163.0 L644.8 163.9 L645.0 164.6 L645.2 165.2 L645.4 167.4 L645.6 166.7 L645.8 169.0 L646.0 169.6 L646.3 170.2 L646.5 170.2 L646.7 171.1 L646.9 170.0 L647.1 170.1 L647.3 169.2 L647.5 167.4 L647.7 166.9 L647.9 165.2 L648.2 163.1 L648.4 160.1 L648.6 158.4 L648.8 156.8 L649.0 155.6 L649.2 154.0 L649.4 153.8 L649.6 153.5 L649.8 153.0 L650.1 154.7 L650.3 154.1 L650.5 154.8 L650.7 154.0 L650.9 154.0 L651.1 153.4 L651.3 154.4 L651.5 153.6 L651.7 154.6 L652.0 154.2 L652.2 155.3 L652.4 155.9 L652.6 156.1 L652.8 156.3 L653.0 157.5 L653.2 158.8 L653.4 159.7 L653.6 159.9 L653.9 160.8 L654.1 161.8 L654.3 163.2 L654.5 163.2 L654.7 164.8 L654.9 166.3 L655.1 167.5 L655.3 167.6 L655.5 169.1 L655.8 169.2 L656.0 169.6 L656.2 168.4 L656.4 169.3 L656.6 168.5 L656.8 170.0 L657.0 169.4 L657.2 170.8 L657.4 169.2 L657.7 169.2 L657.9 170.0 L658.1 169.5 L658.3 170.4 L658.5 170.2 L658.7 169.0 L658.9 168.9 L659.1 167.7 L659.3 166.5 L659.6 166.9 L659.8 164.6 L660.0 163.6 L660.2 161.4 L660.4 159.8 L660.6 159.2 L660.8 158.9 L661.0 157.3 L661.2 155.4 L661.5 155.9 L661.7 155.3 L661.9 155.6 L662.1 154.3 L662.3 156.6 L662.5 156.1 L662.7 156.5 L662.9 157.0 L663.1 159.0 L663.4 158.5 L663.6 159.3 L663.8 161.2 L664.0 160.9 L664.2 160.5 L664.4 161.2 L664.6 163.2 L664.8 162.8 L665.0 163.4 L665.3 163.9 L665.5 166.0 L665.7 165.4 L665.9 166.8 L666.1 167.0 L666.3 167.3 L666.5 167.6 L666.7 166.9 L666.9 168.3 L667.2 167.9 L667.4 167.4 L667.6 167.9 L667.8 168.7 L668.0 168.9 L668.2 170.2 L668.4 169.6 L668.6 169.7 L668.8 168.6 L669.1 168.8 L669.3 169.3 L669.5 169.7 L669.7 170.7 L669.9 168.4 L670.1 169.4 L670.3 168.6 L670.5 167.0 L670.7 167.6 L671.0 165.6 L671.2 165.7 L671.4 163.6 L671.6 163.4 L671.8 163.2 L672.0 162.8 L672.2 161.1 L672.4 160.2 L672.6 160.6 L672.9 160.0 L673.1 158.1 L673.3 158.9 L673.5 159.4 L673.7 157.7 L673.9 158.5 L674.1 159.2 L674.3 158.2 L674.5 159.3 L674.8 159.8 L675.0 158.2 L675.2 159.0 L675.4 159.3 L675.6 161.1 L675.8 161.0 L676.0 160.7 L676.2 162.1 L676.4 162.8 L676.7 165.4 L676.9 166.0 L677.1 166.8 L677.3 165.7 L677.5 166.7 L677.7 167.1 L677.9 167.1 L678.1 168.6 L678.3 167.8 L678.6 168.7 L678.8 168.5 L679.0 168.2 L679.2 167.7 L679.4 169.5 L679.6 168.7 L679.8 167.8 L680.0 168.7 L680.2 167.6 L680.5 167.8 L680.7 168.5 L680.9 166.6 L681.1 165.7 L681.3 164.7 L681.5 164.3 L681.7 163.1 L681.9 161.9 L682.1 162.0 L682.4 160.4 L682.6 160.6 L682.8 159.0 L683.0 158.4 L683.2 157.5 L683.4 156.8 L683.6 157.3 L683.8 156.2 L684.0 155.1 L684.3 154.8 L684.5 153.9 L684.7 152.2 L684.9 149.5 L685.1 149.0 L685.3 148.8 L685.5 148.0 L685.7 148.4 L685.9 150.1 L686.2 149.9 L686.4 151.3 L686.6 154.1 L686.8 155.8 L687.0 155.3 L687.2 156.0 L687.4 158.7 L687.6 159.1 L687.8 159.4 L688.1 159.9 L688.3 161.8 L688.5 161.8 L688.7 164.1 L688.9 164.7 L689.1 164.7 L689.3 165.7 L689.5 164.6 L689.7 164.6 L690.0 166.1 L690.2 165.6 L690.4 166.9 L690.6 165.8 L690.8 166.6 L691.0 167.5 L691.2 168.2 L691.4 166.4 L691.6 167.1 L691.9 167.8 L692.1 165.3 L692.3 165.3 L692.5 165.0 L692.7 163.4 L692.9 163.2 L693.1 161.3 L693.3 160.2 L693.5 158.8 L693.8 159.1 L694.0 159.4 L694.2 158.4 L694.4 155.7 L694.6 155.2 L694.8 154.9 L695.0 156.5 L695.2 155.6 L695.4 155.7 L695.7 157.3 L695.9 157.0 L696.1 157.9 L696.3 159.3 L696.5 160.5 L696.7 159.6 L696.9 160.2 L697.1 160.6 L697.3 162.7 L697.6 162.3 L697.8 163.2 L698.0 162.3 L698.2 164.1 L698.4 163.2 L698.6 164.3 L698.8 163.7 L699.0 164.6 L699.2 165.4 L699.5 164.3 L699.7 166.1 L699.9 166.0 L700.1 165.8 L700.3 166.0 L700.5 165.1 L700.7 164.8 L700.9 165.4 L701.1 165.1 L701.4 165.6 L701.6 166.6 L701.8 165.4 L702.0 165.2 L702.2 166.9 L702.4 167.2 L702.6 166.1 L702.8 165.7 L703.0 167.1 L703.3 165.3 L703.5 165.8 L703.7 166.5 L703.9 166.1 L704.1 165.8 L704.3 164.8 L704.5 164.9 L704.7 163.5 L704.9 164.3 L705.2 163.6 L705.4 163.4 L705.6 162.5 L705.8 162.0 L706.0 160.3 L706.2 160.6 L706.4 158.9 L706.6 160.0 L706.8 159.0 L707.1 157.7 L707.3 157.7 L707.5 157.3 L707.7 155.9 L707.9 156.6 L708.1 155.6 L708.3 155.9 L708.5 158.0 L708.7 157.5 L709.0 158.6 L709.2 159.6 L709.4 161.3 L709.6 161.6 L709.8 161.7 L710.0 162.7 L710.2 161.8 L710.4 161.8 L710.6 162.6 L710.9 163.7 L711.1 163.5 L711.3 165.3 L711.5 164.6 L711.7 165.0 L711.9 165.7 L712.1 165.4 L712.3 164.9 L712.5 165.2 L712.8 165.9 L713.0 165.6 L713.2 165.6 L713.4 166.0 L713.6 167.0 L713.8 167.0 L714.0 165.4 L714.2 165.0 L714.4 164.2 L714.7 163.7 L714.9 164.0 L715.1 163.1 L715.3 163.2 L715.5 161.8 L715.7 162.3 L715.9 161.6 L716.1 161.8 L716.3 161.0 L716.6 159.0 L716.8 159.4 L717.0 158.5 L717.2 157.1 L717.4 157.6 L717.6 157.9 L717.8 155.4 L718.0 154.5 L718.2 154.5 L718.5 154.5 L718.7 153.9 L718.9 154.7 L719.1 153.7 L719.3 155.3 L719.5 154.1 L719.7 154.8 L719.9 157.4 L720.1 156.2 L720.4 158.6 L720.6 157.9 L720.8 158.7 L721.0 160.3 L721.2 161.1 L721.4 161.1 L721.6 162.3 L721.8 162.7 L722.0 161.3 L722.3 162.4 L722.5 162.8 L722.7 162.5 L722.9 163.8 L723.1 164.6 L723.3 164.5 L723.5 164.8 L723.7 163.7 L723.9 164.4 L724.2 163.6 L724.4 164.8 L724.6 164.9 L724.8 163.8 L725.0 163.5 L725.2 163.7 L725.4 163.6 L725.6 161.5 L725.8 162.5 L726.1 162.4 L726.3 160.5 L726.5 160.4 L726.7 160.4 L726.9 160.3 L727.1 159.8 L727.3 159.7 L727.5 158.9 L727.7 158.7 L728.0 158.2 L728.2 158.7 L728.4 159.2 L728.6 159.3 L728.8 158.1 L729.0 157.6 L729.2 159.2 L729.4 160.2 L729.6 160.6 L729.9 160.5 L730.1 160.3 L730.3 160.0 L730.5 161.3 L730.7 162.0 L730.9 162.4 L731.1 162.4 L731.3 162.9 L731.5 161.6 L731.8 162.6 L732.0 162.6 L732.2 162.8 L732.4 162.9 L732.6 163.3 L732.8 162.4 L733.0 162.3 L733.2 163.3 L733.4 163.8 L733.7 163.5 L733.9 163.8 L734.1 163.7 L734.3 164.7 L734.5 164.7 L734.7 163.3 L734.9 164.4 L735.1 164.3 L735.3 163.3 L735.6 163.4 L735.8 165.0 L736.0 164.8 L736.2 163.5 L736.4 164.2 L736.6 164.6 L736.8 163.4 L737.0 163.1 L737.2 162.8 L737.5 162.0 L737.7 162.4 L737.9 160.6 L738.1 160.3 L738.3 159.7 L738.5 160.1 L738.7 159.6 L738.9 159.6 L739.1 158.6 L739.4 159.0 L739.6 158.8 L739.8 158.1 L740.0 159.1 L740.2 158.3 L740.4 158.4 L740.6 159.2 L740.8 159.2 L741.0 158.9 L741.3 157.8 L741.5 159.6 L741.7 159.2 L741.9 159.5 L742.1 160.8 L742.3 160.2 L742.5 161.9 L742.7 162.3 L742.9 161.2 L743.2 161.4 L743.4 163.3 L743.6 161.5 L743.8 163.4 L744.0 163.5 L744.2 163.6 L744.4 162.3 L744.6 164.4 L744.8 163.0 L745.1 164.6 L745.3 163.9 L745.5 163.6 L745.7 163.4 L745.9 163.1 L746.1 163.7 L746.3 163.4 L746.5 163.2 L746.7 164.6 L747.0 165.2 L747.2 164.1 L747.4 164.6 L747.6 164.7 L747.8 162.5 L748.0 163.0 L748.2 162.7 L748.4 162.0 L748.6 162.7 L748.9 162.1 L749.1 160.9 L749.3 162.3 L749.5 160.2 L749.7 159.7 L749.9 160.8 L750.1 159.6 L750.3 159.6 L750.5 157.7 L750.8 157.3 L751.0 157.2 L751.2 156.9 L751.4 157.0 L751.6 156.4 L751.8 156.1 L752.0 157.7 L752.2 156.0 L752.4 157.0 L752.7 156.6 L752.9 158.2 L753.1 158.1 L753.3 158.4 L753.5 158.4 L753.7 158.9 L753.9 160.4 L754.1 159.6 L754.3 160.5 L754.6 159.7 L754.8 161.1 L755.0 162.0 L755.2 161.7 L755.4 162.6 L755.6 162.8 L755.8 161.8 L756.0 162.8 L756.2 162.0 L756.5 162.2 L756.7 163.5 L756.9 162.4 L757.1 161.8 L757.3 162.5 L757.5 162.7 L757.7 161.4 L757.9 160.8 L758.1 160.4 L758.4 159.5 L758.6 159.1 L758.8 159.6 L759.0 158.6 L759.2 158.7 L759.4 159.4 L759.6 158.9 L759.8 158.8 L760.0 158.9 L760.3 158.3 L760.5 157.8 L760.7 157.2 L760.9 158.8 L761.1 157.7 L761.3 158.4 L761.5 158.7 L761.7 160.5 L761.9 160.7 L762.2 159.7 L762.4 160.2 L762.6 160.8 L762.8 160.1 L763.0 160.2 L763.2 161.6 L763.4 161.5 L763.6 161.9 L763.8 162.6 L764.1 161.0 L764.3 162.8 L764.5 161.4 L764.7 163.1 L764.9 161.5 L765.1 162.1 L765.3 162.9 L765.5 161.8 L765.8 161.7 L766.0 162.1 L766.2 162.3 L766.4 163.6 L766.6 162.3 L766.8 163.3 L767.0 163.7 L767.2 161.9 L767.4 162.5 L767.7 163.9 L767.9 163.2 L768.1 162.4 L768.3 163.1 L768.5 162.9 L768.7 163.8 L768.9 163.7 L769.1 162.5 L769.3 163.8 L769.6 161.5 L769.8 163.1 L770.0 161.1 L770.2 161.7 L770.4 161.1 L770.6 161.6 L770.8 160.5 L771.0 159.7 L771.2 160.2 L771.5 159.1 L771.7 158.9 L771.9 159.4 L772.1 158.1 L772.3 158.1 L772.5 158.5 L772.7 158.3 L772.9 157.9 L773.1 157.8 L773.4 156.4 L773.6 157.4 L773.8 157.8 L774.0 157.1 L774.2 159.1 L774.4 159.1 L774.6 158.3 L774.8 158.9 L775.0 159.3 L775.3 159.9 L775.5 161.2 L775.7 160.4 L775.9 161.3 L776.1 161.1 L776.3 162.0 L776.5 162.3 L776.7 162.3 L776.9 162.3 L777.2 162.3 L777.4 162.9 L777.6 162.4 L777.8 161.8 L778.0 161.7 L778.2 162.9 L778.4 163.4 L778.6 163.3 L778.8 163.3 L779.1 163.5 L779.3 162.0 L779.5 163.8 L779.7 162.0 L779.9 163.2 L780.1 162.9 L780.3 162.3 L780.5 163.3 L780.7 162.2 L781.0 161.7 L781.2 162.6 L781.4 162.1 L781.6 160.1 L781.8 159.8 L782.0 158.9 L782.2 157.1 L782.4 155.0 L782.6 154.8 L782.9 152.0 L783.1 150.8 L783.3 150.6 L783.5 150.0 L783.7 148.0 L783.9 147.6 L784.1 146.7 L784.3 146.9 L784.5 148.0 L784.8 148.3 L785.0 149.3 L785.2 152.3 L785.4 153.8 L785.6 153.4 L785.8 155.0 L786.0 155.0 L786.2 156.5 L786.4 156.3 L786.7 157.8 L786.9 158.6 L787.1 159.1 L787.3 158.2 L787.5 160.1 L787.7 160.5 L787.9 159.6 L788.1 161.5 L788.3 160.4 L788.6 160.5 L788.8 160.5 L789.0 162.6 L789.2 162.9 L789.4 162.8 L789.6 162.0 L789.8 162.0 L790.0 163.6 L790.2 163.8 L790.5 163.7 L790.7 162.4 L790.9 162.7 L791.1 163.8 L791.3 162.7 L791.5 164.3 L791.7 164.2 L791.9 163.4 L792.1 162.0 L792.4 159.0 L792.6 157.8 L792.8 158.3 L793.0 156.0 L793.2 153.9 L793.4 152.8 L793.6 152.4 L793.8 153.9 L794.0 152.7 L794.3 153.7 L794.5 154.2 L794.7 153.1 L794.9 154.5 L795.1 154.5 L795.3 153.0 L795.5 153.3 L795.7 155.2 L795.9 155.3 L796.2 155.5 L796.4 155.4 L796.6 156.4 L796.8 155.8 L797.0 157.3 L797.2 157.8 L797.4 157.8 L797.6 158.1 L797.8 158.4 L798.1 160.8 L798.3 161.0 L798.5 161.2 L798.7 160.3 L798.9 161.8 L799.1 160.6 L799.3 161.7 L799.5 160.9 L799.7 161.7 L800.0 162.2 L800.2 162.5 L800.4 163.1 L800.6 163.3 L800.8 162.9 L801.0 161.4 L801.2 162.2 L801.4 163.0 L801.6 163.3 L801.9 161.4 L802.1 162.0 L802.3 162.9 L802.5 162.4 L802.7 161.9 L802.9 159.7 L803.1 159.5 L803.3 160.1 L803.5 159.4 L803.8 158.8 L804.0 157.5 L804.2 156.7 L804.4 155.0 L804.6 155.3 L804.8 153.7 L805.0 154.3 L805.2 153.2 L805.4 152.0 L805.7 151.3 L805.9 150.9 L806.1 150.7 L806.3 152.2 L806.5 151.0 L806.7 151.7 L806.9 151.1 L807.1 153.3 L807.3 154.1 L807.6 153.7 L807.8 155.4 L808.0 156.1 L808.2 156.1 L808.4 155.6 L808.6 157.2 L808.8 156.5 L809.0 158.4 L809.2 158.7 L809.5 157.4 L809.7 158.1 L809.9 159.1 L810.1 158.4 L810.3 160.0 L810.5 159.6 L810.7 160.1 L810.9 159.9 L811.1 160.9 L811.4 161.1 L811.6 161.3 L811.8 160.5 L812.0 160.7 L812.2 160.5 L812.4 162.1 L812.6 160.4 L812.8 161.0 L813.0 160.3 L813.3 161.5 L813.5 162.0 L813.7 160.6 L813.9 159.1 L814.1 159.2 L814.3 159.1 L814.5 157.3 L814.7 157.2 L814.9 155.9 L815.2 154.3 L815.4 154.9 L815.6 152.8 L815.8 151.5 L816.0 151.6 L816.2 149.7 L816.4 147.5 L816.6 144.8 L816.8 144.6 L817.1 142.0 L817.3 140.6 L817.5 140.7 L817.7 140.8 L817.9 142.2 L818.1 143.4 L818.3 143.3 L818.5 146.0 L818.7 146.0 L819.0 148.1 L819.2 150.0 L819.4 150.7 L819.6 150.2 L819.8 152.2 L820.0 153.5 L820.2 152.5 L820.4 153.6 L820.6 154.8 L820.9 155.4 L821.1 157.4 L821.3 156.0 L821.5 156.7 L821.7 158.2 L821.9 157.4 L822.1 158.8 L822.3 159.2 L822.5 159.3 L822.8 159.3 L823.0 159.7 L823.2 159.7 L823.4 159.9 L823.6 160.0 L823.8 160.1 L824.0 159.9 L824.2 160.8 L824.4 160.9 L824.7 160.6 L824.9 160.2 L825.1 160.4 L825.3 160.0 L825.5 157.4 L825.7 157.4 L825.9 156.8 L826.1 155.1 L826.3 154.9 L826.6 154.4 L826.8 153.0 L827.0 153.4 L827.2 152.3 L827.4 152.9 L827.6 152.5 L827.8 152.5 L828.0 152.7 L828.2 154.0 L828.5 153.3 L828.7 154.7 L828.9 154.4 L829.1 156.3 L829.3 156.8 L829.5 156.2 L829.7 157.1 L829.9 158.3 L830.1 157.3 L830.4 159.1 L830.6 158.9 L830.8 159.7 L831.0 159.1 L831.2 158.0 L831.4 159.0 L831.6 159.7 L831.8 159.4 L832.0 159.3 L832.3 159.2 L832.5 160.3 L832.7 159.2 L832.9 160.6 L833.1 159.7 L833.3 160.4 L833.5 161.3 L833.7 160.6 L833.9 161.3 L834.2 159.7 L834.4 160.6 L834.6 161.0 L834.8 159.9 L835.0 161.1 L835.2 161.1 L835.4 160.5 L835.6 161.0 L835.8 158.9 L836.1 160.4 L836.3 157.9 L836.5 158.7 L836.7 156.5 L836.9 155.4 L837.1 155.8 L837.3 154.8 L837.5 154.4 L837.7 153.7 L838.0 152.0 L838.2 151.4 L838.4 150.8 L838.6 149.7 L838.8 150.2 L839.0 149.8 L839.2 148.2 L839.4 149.3 L839.6 148.4 L839.9 149.0 L840.1 150.2 L840.3 150.6 L840.5 151.7 L840.7 151.8 L840.9 153.8 L841.1 153.3 L841.3 153.8 L841.5 154.8 L841.8 155.9 L842.0 157.0 L842.2 156.2 L842.4 156.0 L842.6 158.2 L842.8 157.8 L843.0 157.2 L843.2 157.3 L843.4 157.4 L843.7 157.5 L843.9 159.0 L844.1 157.8 L844.3 159.2 L844.5 158.6 L844.7 159.2 L844.9 158.6 L845.1 157.7 L845.3 156.8 L845.6 157.8 L845.8 156.7 L846.0 154.0 L846.2 153.0 L846.4 152.0 L846.6 151.6 L846.8 148.8 L847.0 147.8 L847.2 145.2 L847.5 144.1 L847.7 144.4 L847.9 143.0 L848.1 141.3 L848.3 142.2 L848.5 140.8 L848.7 142.2 L848.9 142.2 L849.1 141.9 L849.4 140.1 L849.6 140.8 L849.8 141.3 L850.0 140.6 L850.2 139.3 L850.4 139.6 L850.6 140.4 L850.8 139.7 L851.0 139.2 L851.3 140.0 L851.5 140.7 L851.7 140.6 L851.9 140.2 L852.1 140.9 L852.3 141.7 L852.5 143.2 L852.7 145.0 L852.9 147.0 L853.2 146.7 L853.4 148.8 L853.6 150.2 L853.8 149.7 L854.0 151.2 L854.2 152.3 L854.4 151.3 L854.6 152.6 L854.8 153.9 L855.1 152.9 L855.3 153.3 L855.5 155.1 L855.7 155.4 L855.9 156.5 L856.1 156.3 L856.3 157.1 L856.5 156.5 L856.7 156.8 L857.0 157.2 L857.2 156.1 L857.4 155.9 L857.6 156.1 L857.8 154.3 L858.0 154.6 L858.2 153.2 L858.4 153.2 L858.6 151.4 L858.9 150.6 L859.1 150.7 L859.3 149.0 L859.5 147.2 L859.7 143.2 L859.9 139.1 L860.1 136.6 L860.3 133.0 L860.5 135.0 L860.8 133.6 L861.0 134.4 L861.2 137.6 L861.4 137.3 L861.6 139.4 L861.8 140.8 L862.0 142.2 L862.2 144.3 L862.4 147.1 L862.7 148.4 L862.9 151.3 L863.1 154.1 L863.3 154.4 L863.5 154.6 L863.7 155.2 L863.9 156.2 L864.1 156.1 L864.3 156.9 L864.6 155.6 L864.8 157.0" fill="none" stroke="#1f77b4" stroke-width="2.8" stroke-linejoin="round" stroke-linecap="square"/>
<path d="M149.5 237.5 v5 M259.5 237.5 v5 M370.5 237.5 v5 M480.5 237.5 v5 M590.5 237.5 v5 M700.5 237.5 v5 M810.5 237.5 v5 M125.5 235.5 h-5 M125.5 204.5 h-5 M125.5 173.5 h-5 M125.5 142.5 h-5" stroke="#000" stroke-width="1.11" fill="none"/>
<path d="M125.5 237.5 V120.5 H900.5 V237.5 Z" stroke="#000" stroke-width="1.11" fill="none" stroke-linejoin="miter" stroke-linecap="square"/>
<text transform="translate(117.2 275.1) rotate(-30) scale(0.9753 1)" x="0.35 9.43 18.47 27.58" font-size="14.76">1950</text>
<text transform="translate(227.2 275.2) rotate(-30) scale(0.9984 1)" x="0.24 9.12 18 26.84" font-size="14.76">1960</text>
<text transform="translate(337.46 275.06) rotate(-30) scale(0.9842 1)" x="0.31 9.31 18.29 27.29" font-size="14.76">1970</text>
<text transform="translate(447.36 275.08) rotate(-30) scale(0.9924 1)" x="0.27 9.2 18.13 27.03" font-size="14.76">1980</text>
<text transform="translate(557.26 275.12) rotate(-30) scale(0.9979 1)" x="0.24 9.12 17.97 26.86" font-size="14.76">1990</text>
<text transform="translate(668.1 274.87) rotate(-30) scale(0.9832 1)" x="0.2 9.37 18.34 27.32" font-size="14.76">2000</text>
<text transform="translate(778.06 274.81) rotate(-30) scale(0.9725 1)" x="0.25 9.51 18.52 27.67" font-size="14.76">2010</text>
<text transform="translate(58.24 241.04) scale(0.9927 1)" x="0.34 9.06 13.68 22.57 31.46 40.35 49.25" font-size="14.76">0.00000</text>
<text transform="translate(57.43 210.03) scale(0.9781 1)" x="0.41 9.22 13.94 22.97 32 40.83 49.99" font-size="14.76">0.00025</text>
<text transform="translate(57.74 179.11) scale(0.9838 1)" x="0.38 9.16 13.84 22.81 31.79 40.71 49.73" font-size="14.76">0.00050</text>
<text transform="translate(57.47 148.43) scale(0.9803 1)" x="0.4 9.2 13.9 22.91 31.91 40.89 49.87" font-size="14.76">0.00075</text>
<text transform="translate(48.03 214.95) rotate(-90) scale(1.0309 1)" x="0.52 5 8.6 17.01 20.65 29.57 42.27 49.99 58.93" font-size="14.56">fieldmean</text>
<text transform="translate(311.24 112.04) scale(1.0486 1)" x="-0.71 7.93 17.9 27.75 30.92 38.18 42.52 52.56 63.24 75.2 84.97 88.13 95.36 105.52 115.64 125.74 135.95 145.99 156.21 166.25 175.8 186.1 196.1 206.44 216.57 225.27 232.11 237.81 246.47 252.58 262.92 272.96 283.17 293.21 303.22 313.47 323.62 333.15 343.44 353.45 363.79 373.91" font-size="16.78">snd, lev=0, 19510101T1200 to 20141215T1200</text>
</g>
<g>
<rect x="125" y="260.69" width="775" height="117.24" fill="#fff"/>
<clipPath id="c1"><rect x="125" y="260.69" width="775" height="117.24"/></clipPath>
<path d="M160.23 319.31 H864.77" stroke="#1f77b4" stroke-width="2.083" stroke-linecap="square" fill="none"/>
<path d="M149.5 378.5 v5 M259.5 378.5 v5 M370.5 378.5 v5 M480.5 378.5 v5 M590.5 378.5 v5 M700.5 378.5 v5 M810.5 378.5 v5 M125.5 373.5 h-5 M125.5 319.5 h-5 M125.5 266.5 h-5" stroke="#000" stroke-width="1.11" fill="none"/>
<path d="M125.5 378.5 V261.5 H900.5 V378.5 Z" stroke="#000" stroke-width="1.11" fill="none" stroke-linejoin="miter" stroke-linecap="square"/>
<text transform="translate(117.2 415.79) rotate(-30) scale(0.9753 1)" x="0.35 9.43 18.47 27.58" font-size="14.76">1950</text>
<text transform="translate(227.2 415.89) rotate(-30) scale(0.9984 1)" x="0.24 9.12 18 26.84" font-size="14.76">1960</text>
<text transform="translate(337.46 415.75) rotate(-30) scale(0.9842 1)" x="0.31 9.31 18.29 27.29" font-size="14.76">1970</text>
<text transform="translate(447.36 415.77) rotate(-30) scale(0.9924 1)" x="0.27 9.2 18.13 27.03" font-size="14.76">1980</text>
<text transform="translate(557.26 415.81) rotate(-30) scale(0.9979 1)" x="0.24 9.12 17.97 26.86" font-size="14.76">1990</text>
<text transform="translate(668.1 415.56) rotate(-30) scale(0.9832 1)" x="0.2 9.37 18.34 27.32" font-size="14.76">2000</text>
<text transform="translate(778.06 415.5) rotate(-30) scale(0.9725 1)" x="0.25 9.51 18.52 27.67" font-size="14.76">2010</text>
<text transform="translate(71.21 378.5) scale(1.0332 1)" x="1.32 11.42 19.88 24.23 32.73" font-size="14.76">−0.05</text>
<text transform="translate(84.34 324.93) scale(0.9935 1)" x="0.34 9.05 13.66 22.55" font-size="14.76">0.00</text>
<text transform="translate(83.25 271.87) scale(0.9761 1)" x="0.42 9.25 13.98 22.97" font-size="14.76">0.05</text>
<text transform="translate(62.4 348.83) rotate(-90) scale(1.0636 1)" x="0.44 4.8 8.21 16.44 19.89 28.48 41.06 44.6" font-size="14.56">fieldmin</text>
</g>
<g>
<rect x="125" y="401.38" width="775" height="117.24" fill="#fff"/>
<clipPath id="c2"><rect x="125" y="401.38" width="775" height="117.24"/></clipPath>
<path clip-path="url(#c2)" d="M160.2 513.00 L160.9 513.00 L161.6 513.00 L162.3 513.00 L163.0 513.00 L163.7 513.00 L164.4 512.94 L165.1 512.63 L165.8 512.11 L166.5 511.47 L167.2 510.77 L167.9 510.10 L168.6 509.53 L169.3 509.14 L170.0 509.00 L170.7 509.08 L171.4 509.28 L172.1 509.55 L172.8 509.84 L173.5 510.11 L174.2 510.31 L174.9 510.40 L175.6 510.26 L176.3 509.82 L177.0 509.19 L177.7 508.47 L178.4 507.75 L179.1 507.13 L179.8 506.72 L180.5 506.60 L181.2 506.74 L181.9 507.02 L182.6 507.39 L183.3 507.79 L184.0 508.16 L184.7 508.45 L185.4 508.59 L186.1 508.48 L186.8 508.02 L187.5 507.31 L188.2 506.45 L188.9 505.55 L189.6 504.71 L190.3 504.05 L191.0 503.66 L191.7 503.61 L192.4 503.69 L193.1 503.82 L193.8 503.98 L194.5 504.15 L195.2 504.29 L195.9 504.38 L196.6 504.39 L197.3 504.22 L198.0 503.89 L198.7 503.46 L199.4 502.98 L200.1 502.50 L200.8 502.07 L201.5 501.76 L202.2 501.61 L202.9 501.65 L203.6 501.85 L204.3 502.15 L205.0 502.51 L205.7 502.88 L206.4 503.22 L207.1 503.47 L207.8 503.59 L208.5 503.47 L209.2 502.99 L209.9 502.27 L210.6 501.44 L211.3 500.64 L212.0 499.99 L212.7 499.63 L213.4 499.64 L214.1 499.87 L214.8 500.24 L215.5 500.69 L216.2 501.15 L216.9 501.56 L217.6 501.87 L218.3 502.00 L219.0 501.90 L219.7 501.57 L220.4 501.10 L221.1 500.53 L221.8 499.94 L222.5 499.38 L223.2 498.94 L223.9 498.66 L224.6 498.61 L225.3 498.78 L226.0 499.09 L226.7 499.50 L227.4 499.95 L228.1 500.38 L228.8 500.73 L229.5 500.95 L230.2 500.97 L230.9 500.58 L231.6 499.85 L232.3 498.93 L233.0 497.98 L233.7 497.14 L234.4 496.57 L235.1 496.40 L235.8 496.48 L236.5 496.66 L237.2 496.90 L237.9 497.17 L238.6 497.45 L239.3 497.70 L240.0 497.89 L240.7 497.99 L241.4 497.92 L242.1 497.48 L242.8 496.75 L243.5 495.85 L244.2 494.88 L244.9 493.94 L245.6 493.14 L246.3 492.59 L247.0 492.40 L247.7 492.51 L248.4 492.77 L249.1 493.11 L249.8 493.47 L250.5 493.78 L251.2 493.97 L251.9 493.97 L252.6 493.71 L253.3 493.27 L254.0 492.72 L254.7 492.14 L255.4 491.61 L256.1 491.21 L256.8 491.01 L257.5 491.05 L258.2 491.26 L258.9 491.59 L259.6 491.98 L260.3 492.40 L261.0 492.79 L261.7 493.12 L262.4 493.34 L263.1 493.39 L263.8 493.21 L264.5 492.81 L265.2 492.29 L265.9 491.71 L266.6 491.16 L267.3 490.71 L268.0 490.44 L268.7 490.42 L269.4 490.58 L270.1 490.85 L270.8 491.20 L271.5 491.58 L272.2 491.93 L272.9 492.21 L273.6 492.37 L274.3 492.36 L275.0 492.07 L275.7 491.54 L276.4 490.85 L277.1 490.08 L277.8 489.30 L278.5 488.59 L279.2 488.02 L279.9 487.67 L280.6 487.61 L281.3 487.76 L282.0 488.01 L282.7 488.25 L283.4 488.39 L284.1 488.33 L284.8 488.07 L285.5 487.66 L286.2 487.15 L286.9 486.60 L287.6 486.05 L288.3 485.57 L289.0 485.21 L289.7 485.02 L290.4 485.04 L291.1 485.26 L291.8 485.61 L292.5 486.02 L293.2 486.43 L293.9 486.76 L294.6 486.97 L295.3 486.97 L296.0 486.74 L296.7 486.33 L297.4 485.78 L298.1 485.15 L298.8 484.49 L299.5 483.86 L300.2 483.30 L300.9 482.88 L301.6 482.64 L302.3 482.62 L303.0 482.80 L303.7 483.10 L304.4 483.46 L305.1 483.83 L305.8 484.15 L306.5 484.36 L307.2 484.38 L307.9 484.15 L308.6 483.71 L309.3 483.13 L310.0 482.47 L310.7 481.82 L311.4 481.24 L312.1 480.82 L312.8 480.61 L313.5 480.67 L314.2 480.92 L314.9 481.28 L315.6 481.69 L316.3 482.06 L317.0 482.32 L317.7 482.40 L318.4 482.22 L319.1 481.85 L319.8 481.36 L320.5 480.82 L321.2 480.31 L321.9 479.89 L322.6 479.64 L323.3 479.62 L324.0 479.79 L324.7 480.08 L325.4 480.46 L326.1 480.88 L326.8 481.29 L327.5 481.64 L328.2 481.89 L328.9 482.00 L329.6 481.93 L330.3 481.70 L331.0 481.36 L331.7 480.96 L332.4 480.54 L333.1 480.15 L333.8 479.84 L334.5 479.64 L335.2 479.62 L335.9 479.85 L336.6 480.25 L337.3 480.72 L338.0 481.13 L338.7 481.38 L339.4 481.35 L340.1 481.08 L340.8 480.64 L341.5 480.10 L342.2 479.50 L342.9 478.93 L343.6 478.45 L344.3 478.12 L345.0 478.00 L345.7 478.08 L346.4 478.29 L347.1 478.58 L347.8 478.92 L348.5 479.26 L349.2 479.58 L349.9 479.83 L350.6 479.98 L351.3 479.97 L352.0 479.69 L352.7 479.19 L353.4 478.56 L354.1 477.87 L354.8 477.19 L355.5 476.60 L356.2 476.18 L356.9 476.00 L357.6 476.10 L358.3 476.40 L359.0 476.82 L359.7 477.28 L360.4 477.68 L361.1 477.94 L361.8 477.98 L362.5 477.65 L363.2 477.04 L363.9 476.25 L364.6 475.40 L365.3 474.60 L366.0 473.97 L366.7 473.63 L367.4 473.64 L368.1 473.83 L368.8 474.15 L369.5 474.52 L370.2 474.88 L370.9 475.19 L371.6 475.37 L372.3 475.38 L373.0 475.20 L373.7 474.88 L374.4 474.46 L375.1 473.97 L375.8 473.46 L376.5 472.97 L377.2 472.54 L377.9 472.21 L378.6 472.03 L379.3 472.01 L380.0 472.11 L380.7 472.28 L381.4 472.48 L382.1 472.68 L382.8 472.86 L383.5 472.98 L384.2 472.98 L384.9 472.74 L385.6 472.27 L386.3 471.66 L387.0 470.97 L387.7 470.28 L388.4 469.68 L389.1 469.23 L389.8 469.01 L390.5 469.08 L391.2 469.39 L391.9 469.86 L392.6 470.40 L393.3 470.92 L394.0 471.34 L394.7 471.58 L395.4 471.52 L396.1 471.12 L396.8 470.44 L397.5 469.61 L398.2 468.70 L398.9 467.83 L399.6 467.09 L400.3 466.58 L401.0 466.40 L401.7 466.54 L402.4 466.87 L403.1 467.28 L403.8 467.67 L404.5 467.94 L405.2 467.98 L405.9 467.76 L406.6 467.31 L407.3 466.71 L408.0 466.00 L408.7 465.25 L409.4 464.53 L410.1 463.88 L410.8 463.37 L411.5 463.06 L412.2 463.01 L412.9 463.13 L413.6 463.35 L414.3 463.63 L415.0 463.92 L415.7 464.17 L416.4 464.35 L417.1 464.39 L417.8 464.19 L418.5 463.77 L419.2 463.23 L419.9 462.64 L420.6 462.12 L421.3 461.74 L422.0 461.60 L422.7 461.71 L423.4 462.00 L424.1 462.41 L424.8 462.88 L425.5 463.37 L426.2 463.81 L426.9 464.16 L427.6 464.37 L428.3 464.36 L429.0 464.05 L429.7 463.52 L430.4 462.87 L431.1 462.21 L431.8 461.64 L432.5 461.28 L433.2 461.21 L433.9 461.38 L434.6 461.71 L435.3 462.14 L436.0 462.62 L436.7 463.10 L437.4 463.53 L438.1 463.84 L438.8 463.99 L439.5 463.94 L440.2 463.68 L440.9 463.30 L441.6 462.85 L442.3 462.39 L443.0 461.99 L443.7 461.70 L444.4 461.60 L445.1 461.71 L445.8 461.99 L446.5 462.38 L447.2 462.82 L447.9 463.26 L448.6 463.64 L449.3 463.91 L450.0 464.00 L450.7 463.84 L451.4 463.43 L452.1 462.85 L452.8 462.17 L453.5 461.48 L454.2 460.84 L454.9 460.34 L455.6 460.04 L456.3 460.02 L457.0 460.22 L457.7 460.55 L458.4 460.96 L459.1 461.37 L459.8 461.72 L460.5 461.95 L461.2 461.98 L461.9 461.68 L462.6 461.13 L463.3 460.41 L464.0 459.64 L464.7 458.91 L465.4 458.34 L466.1 458.03 L466.8 458.03 L467.5 458.19 L468.2 458.46 L468.9 458.77 L469.6 459.09 L470.3 459.36 L471.0 459.55 L471.7 459.60 L472.4 459.43 L473.1 459.08 L473.8 458.59 L474.5 458.03 L475.2 457.44 L475.9 456.89 L476.6 456.42 L477.3 456.11 L478.0 456.00 L478.7 456.12 L479.4 456.40 L480.1 456.78 L480.8 457.20 L481.5 457.58 L482.2 457.87 L482.9 458.00 L483.6 457.88 L484.3 457.50 L485.0 456.94 L485.7 456.27 L486.4 455.57 L487.1 454.92 L487.8 454.40 L488.5 454.07 L489.2 454.01 L489.9 454.22 L490.6 454.60 L491.3 455.08 L492.0 455.58 L492.7 456.01 L493.4 456.31 L494.1 456.40 L494.8 456.26 L495.5 455.96 L496.2 455.56 L496.9 455.12 L497.6 454.68 L498.3 454.31 L499.0 454.07 L499.7 454.00 L500.4 454.15 L501.1 454.47 L501.8 454.89 L502.5 455.35 L503.2 455.80 L503.9 456.15 L504.6 456.37 L505.3 456.38 L506.0 456.21 L506.7 455.92 L507.4 455.54 L508.1 455.12 L508.8 454.71 L509.5 454.36 L510.2 454.11 L510.9 454.00 L511.6 454.10 L512.3 454.42 L513.0 454.87 L513.7 455.37 L514.4 455.84 L515.1 456.21 L515.8 456.39 L516.5 456.31 L517.2 455.96 L517.9 455.42 L518.6 454.77 L519.3 454.07 L520.0 453.41 L520.7 452.86 L521.4 452.50 L522.1 452.41 L522.8 452.59 L523.5 452.98 L524.2 453.49 L524.9 454.03 L525.6 454.52 L526.3 454.87 L527.0 455.00 L527.7 454.77 L528.4 454.20 L529.1 453.42 L529.8 452.53 L530.5 451.67 L531.2 450.95 L531.9 450.50 L532.6 450.41 L533.3 450.62 L534.0 451.01 L534.7 451.50 L535.4 452.02 L536.1 452.49 L536.8 452.85 L537.5 453.00 L538.2 452.80 L538.9 452.20 L539.6 451.30 L540.3 450.23 L541.0 449.12 L541.7 448.08 L542.4 447.24 L543.1 446.71 L543.8 446.61 L544.5 446.74 L545.2 446.99 L545.9 447.32 L546.6 447.66 L547.3 447.99 L548.0 448.25 L548.7 448.39 L549.4 448.32 L550.1 447.90 L550.8 447.23 L551.5 446.41 L552.2 445.56 L552.9 444.80 L553.6 444.24 L554.3 444.00 L555.0 444.07 L555.7 444.28 L556.4 444.60 L557.1 444.96 L557.8 445.33 L558.5 445.66 L559.2 445.90 L559.9 446.00 L560.6 445.81 L561.3 445.23 L562.0 444.41 L562.7 443.50 L563.4 442.63 L564.1 441.95 L564.8 441.61 L565.5 441.66 L566.2 441.90 L566.9 442.28 L567.6 442.74 L568.3 443.23 L569.0 443.69 L569.7 444.08 L570.4 444.33 L571.1 444.39 L571.8 444.10 L572.5 443.46 L573.2 442.59 L573.9 441.60 L574.6 440.60 L575.3 439.70 L576.0 439.01 L576.7 438.63 L577.4 438.64 L578.1 438.83 L578.8 439.15 L579.5 439.52 L580.2 439.88 L580.9 440.19 L581.6 440.37 L582.3 440.37 L583.0 440.13 L583.7 439.72 L584.4 439.18 L585.1 438.59 L585.8 438.01 L586.5 437.51 L587.2 437.15 L587.9 437.00 L588.6 437.10 L589.3 437.42 L590.0 437.87 L590.7 438.37 L591.4 438.84 L592.1 439.21 L592.8 439.39 L593.5 439.30 L594.2 438.92 L594.9 438.33 L595.6 437.60 L596.3 436.84 L597.0 436.11 L597.7 435.51 L598.4 435.11 L599.1 435.00 L599.8 435.13 L600.5 435.40 L601.2 435.75 L601.9 436.13 L602.6 436.47 L603.3 436.71 L604.0 436.80 L604.7 436.69 L605.4 436.40 L606.1 435.99 L606.8 435.52 L607.5 435.03 L608.2 434.59 L608.9 434.24 L609.6 434.03 L610.3 434.03 L611.0 434.29 L611.7 434.72 L612.4 435.25 L613.1 435.78 L613.8 436.24 L614.5 436.54 L615.2 436.58 L615.9 436.34 L616.6 435.87 L617.3 435.26 L618.0 434.57 L618.7 433.88 L619.4 433.28 L620.1 432.83 L620.8 432.61 L621.5 432.69 L622.2 433.02 L622.9 433.53 L623.6 434.11 L624.3 434.67 L625.0 435.12 L625.7 435.38 L626.4 435.35 L627.1 435.08 L627.8 434.64 L628.5 434.10 L629.2 433.50 L629.9 432.93 L630.6 432.45 L631.3 432.12 L632.0 432.00 L632.7 432.12 L633.4 432.40 L634.1 432.78 L634.8 433.20 L635.5 433.58 L636.2 433.87 L636.9 434.00 L637.6 433.86 L638.3 433.45 L639.0 432.83 L639.7 432.10 L640.4 431.33 L641.1 430.62 L641.8 430.04 L642.5 429.68 L643.2 429.61 L643.9 429.78 L644.6 430.10 L645.3 430.50 L646.0 430.91 L646.7 431.28 L647.4 431.53 L648.1 431.59 L648.8 431.31 L649.5 430.71 L650.2 429.92 L650.9 429.09 L651.6 428.34 L652.3 427.80 L653.0 427.60 L653.7 427.70 L654.4 427.94 L655.1 428.29 L655.8 428.70 L656.5 429.11 L657.2 429.50 L657.9 429.80 L658.6 429.97 L659.3 429.97 L660.0 429.77 L660.7 429.40 L661.4 428.92 L662.1 428.40 L662.8 427.89 L663.5 427.45 L664.2 427.14 L664.9 427.00 L665.6 427.13 L666.3 427.52 L667.0 428.08 L667.7 428.71 L668.4 429.30 L669.1 429.76 L669.8 429.99 L670.5 429.90 L671.2 429.52 L671.9 428.93 L672.6 428.20 L673.3 427.44 L674.0 426.71 L674.7 426.11 L675.4 425.71 L676.1 425.60 L676.8 425.78 L677.5 426.14 L678.2 426.61 L678.9 427.11 L679.6 427.56 L680.3 427.88 L681.0 428.00 L681.7 427.75 L682.4 427.13 L683.1 426.28 L683.8 425.32 L684.5 424.38 L685.2 423.60 L685.9 423.11 L686.6 423.01 L687.3 423.19 L688.0 423.53 L688.7 423.98 L689.4 424.46 L690.1 424.92 L690.8 425.31 L691.5 425.55 L692.2 425.59 L692.9 425.41 L693.6 425.07 L694.3 424.62 L695.0 424.14 L695.7 423.68 L696.4 423.29 L697.1 423.05 L697.8 423.01 L698.5 423.17 L699.2 423.48 L699.9 423.88 L700.6 424.30 L701.3 424.70 L702.0 425.01 L702.7 425.18 L703.4 425.13 L704.1 424.76 L704.8 424.15 L705.5 423.40 L706.2 422.62 L706.9 421.90 L707.6 421.33 L708.3 421.03 L709.0 421.05 L709.7 421.34 L710.4 421.79 L711.1 422.32 L711.8 422.85 L712.5 423.29 L713.2 423.56 L713.9 423.56 L714.6 423.28 L715.3 422.77 L716.0 422.11 L716.7 421.38 L717.4 420.63 L718.1 419.95 L718.8 419.40 L719.5 419.07 L720.2 419.01 L720.9 419.19 L721.6 419.51 L722.3 419.91 L723.0 420.32 L723.7 420.66 L724.4 420.87 L725.1 420.88 L725.8 420.70 L726.5 420.40 L727.2 420.02 L727.9 419.61 L728.6 419.22 L729.3 418.91 L730.0 418.73 L730.7 418.73 L731.4 418.94 L732.1 419.31 L732.8 419.78 L733.5 420.29 L734.2 420.76 L734.9 421.14 L735.6 421.37 L736.3 421.37 L737.0 421.12 L737.7 420.67 L738.4 420.12 L739.1 419.52 L739.8 418.96 L740.5 418.51 L741.2 418.24 L741.9 418.23 L742.6 418.46 L743.3 418.86 L744.0 419.36 L744.7 419.91 L745.4 420.41 L746.1 420.82 L746.8 421.06 L747.5 421.06 L748.2 420.74 L748.9 420.19 L749.6 419.49 L750.3 418.75 L751.0 418.05 L751.7 417.48 L752.4 417.15 L753.1 417.13 L753.8 417.32 L754.5 417.66 L755.2 418.07 L755.9 418.47 L756.6 418.80 L757.3 418.98 L758.0 418.95 L758.7 418.66 L759.4 418.20 L760.1 417.63 L760.8 417.03 L761.5 416.48 L762.2 416.05 L762.9 415.82 L763.6 415.85 L764.3 416.14 L765.0 416.60 L765.7 417.17 L766.4 417.77 L767.1 418.32 L767.8 418.75 L768.5 418.98 L769.2 418.97 L769.9 418.80 L770.6 418.52 L771.3 418.17 L772.0 417.78 L772.7 417.40 L773.4 417.05 L774.1 416.78 L774.8 416.62 L775.5 416.63 L776.2 416.88 L776.9 417.31 L777.6 417.82 L778.3 418.33 L779.0 418.75 L779.7 418.98 L780.4 418.94 L781.1 418.63 L781.8 418.12 L782.5 417.50 L783.2 416.85 L783.9 416.25 L784.6 415.78 L785.3 415.52 L786.0 415.56 L786.7 415.88 L787.4 416.38 L788.1 416.96 L788.8 417.52 L789.5 417.97 L790.2 418.19 L790.9 418.14 L791.6 417.91 L792.3 417.54 L793.0 417.08 L793.7 416.56 L794.4 416.02 L795.1 415.51 L795.8 415.06 L796.5 414.72 L797.2 414.53 L797.9 414.53 L798.6 414.80 L799.3 415.22 L800.0 415.69 L800.7 416.08 L801.4 416.29 L802.1 416.22 L802.8 415.91 L803.5 415.42 L804.2 414.83 L804.9 414.20 L805.6 413.59 L806.3 413.08 L807.0 412.72 L807.7 412.60 L808.4 412.76 L809.1 413.16 L809.8 413.70 L810.5 414.29 L811.2 414.84 L811.9 415.28 L812.6 415.49 L813.3 415.43 L814.0 415.14 L814.7 414.69 L815.4 414.14 L816.1 413.54 L816.8 412.95 L817.5 412.42 L818.2 412.03 L818.9 411.82 L819.6 411.84 L820.3 412.07 L821.0 412.42 L821.7 412.83 L822.4 413.22 L823.1 413.54 L823.8 413.69 L824.5 413.64 L825.2 413.41 L825.9 413.04 L826.6 412.60 L827.3 412.13 L828.0 411.68 L828.7 411.31 L829.4 411.07 L830.1 411.00 L830.8 411.16 L831.5 411.50 L832.2 411.95 L832.9 412.43 L833.6 412.88 L834.3 413.22 L835.0 413.39 L835.7 413.29 L836.4 412.86 L837.1 412.21 L837.8 411.46 L838.5 410.73 L839.2 410.12 L839.9 409.76 L840.6 409.72 L841.3 409.86 L842.0 410.11 L842.7 410.43 L843.4 410.79 L844.1 411.14 L844.8 411.45 L845.5 411.68 L846.2 411.80 L846.9 411.68 L847.6 411.21 L848.3 410.48 L849.0 409.62 L849.7 408.73 L850.4 407.92 L851.1 407.31 L851.8 407.01 L852.5 407.06 L853.2 407.30 L853.9 407.66 L854.6 408.09 L855.3 408.54 L856.0 408.94 L856.7 409.24 L857.4 409.39 L858.1 409.28 L858.8 408.85 L859.5 408.22 L860.2 407.53 L860.9 406.93 L861.6 406.56 L862.3 406.52 L863.0 406.69 L863.7 407.02 L864.4 407.51 L864.8 407.80" fill="none" stroke="#1f77b4" stroke-width="2.5" stroke-linejoin="round" stroke-linecap="square"/>
<path d="M149.5 519.5 v5 M259.5 519.5 v5 M370.5 519.5 v5 M480.5 519.5 v5 M590.5 519.5 v5 M700.5 519.5 v5 M810.5 519.5 v5 M125.5 513.5 h-5 M125.5 464.5 h-5 M125.5 414.5 h-5" stroke="#000" stroke-width="1.11" fill="none"/>
<path d="M125.5 519.5 V401.5 H900.5 V519.5 Z" stroke="#000" stroke-width="1.11" fill="none" stroke-linejoin="miter" stroke-linecap="square"/>
<text transform="translate(117.2 556.48) rotate(-30) scale(0.9753 1)" x="0.35 9.43 18.47 27.58" font-size="14.76">1950</text>
<text transform="translate(227.2 556.58) rotate(-30) scale(0.9984 1)" x="0.24 9.12 18 26.84" font-size="14.76">1960</text>
<text transform="translate(337.46 556.44) rotate(-30) scale(0.9842 1)" x="0.31 9.31 18.29 27.29" font-size="14.76">1970</text>
<text transform="translate(447.36 556.46) rotate(-30) scale(0.9924 1)" x="0.27 9.2 18.13 27.03" font-size="14.76">1980</text>
<text transform="translate(557.26 556.49) rotate(-30) scale(0.9979 1)" x="0.24 9.12 17.97 26.86" font-size="14.76">1990</text>
<text transform="translate(668.1 556.25) rotate(-30) scale(0.9832 1)" x="0.2 9.37 18.34 27.32" font-size="14.76">2000</text>
<text transform="translate(778.06 556.19) rotate(-30) scale(0.9725 1)" x="0.25 9.51 18.52 27.67" font-size="14.76">2010</text>
<text transform="translate(107.04 518.83) scale(0.9919 1)" x="0.35" font-size="14.76">0</text>
<text transform="translate(97.93 469.46) scale(0.9640 1)" x="0.42 9.63" font-size="14.76">50</text>
<text transform="translate(88.1 420.04) scale(0.9780 1)" x="0.33 9.44 18.46" font-size="14.76">100</text>
<text transform="translate(79.15 491.51) rotate(-90) scale(1.0356 1)" x="0.5 4.97 8.54 16.93 20.54 29.41 41.5 50.47" font-size="14.56">fieldmax</text>
</g>
<g>
<rect x="125" y="542.07" width="775" height="117.24" fill="#fff"/>
<clipPath id="c3"><rect x="125" y="542.07" width="775" height="117.24"/></clipPath>
<path d="M160.23 600.69 H864.77" stroke="#1f77b4" stroke-width="2.083" stroke-linecap="square" fill="none"/>
<path d="M149.5 659.5 v5 M259.5 659.5 v5 M370.5 659.5 v5 M480.5 659.5 v5 M590.5 659.5 v5 M700.5 659.5 v5 M810.5 659.5 v5 M125.5 654.5 h-5 M125.5 601.5 h-5 M125.5 547.5 h-5" stroke="#000" stroke-width="1.11" fill="none"/>
<path d="M125.5 659.5 V542.5 H900.5 V659.5 Z" stroke="#000" stroke-width="1.11" fill="none" stroke-linejoin="miter" stroke-linecap="square"/>
<text transform="translate(117.2 697.17) rotate(-30) scale(0.9753 1)" x="0.35 9.43 18.47 27.58" font-size="14.76">1950</text>
<text transform="translate(227.2 697.27) rotate(-30) scale(0.9984 1)" x="0.24 9.12 18 26.84" font-size="14.76">1960</text>
<text transform="translate(337.46 697.13) rotate(-30) scale(0.9842 1)" x="0.31 9.31 18.29 27.29" font-size="14.76">1970</text>
<text transform="translate(447.36 697.15) rotate(-30) scale(0.9924 1)" x="0.27 9.2 18.13 27.03" font-size="14.76">1980</text>
<text transform="translate(557.26 697.18) rotate(-30) scale(0.9979 1)" x="0.24 9.12 17.97 26.86" font-size="14.76">1990</text>
<text transform="translate(668.1 696.94) rotate(-30) scale(0.9832 1)" x="0.2 9.37 18.34 27.32" font-size="14.76">2000</text>
<text transform="translate(778.06 696.88) rotate(-30) scale(0.9725 1)" x="0.25 9.51 18.52 27.67" font-size="14.76">2010</text>
<text transform="translate(71.21 658.88) scale(1.0332 1)" x="1.32 11.42 19.88 24.23 32.73" font-size="14.76">−0.05</text>
<text transform="translate(84.34 606.31) scale(0.9935 1)" x="0.34 9.05 13.66 22.55" font-size="14.76">0.00</text>
<text transform="translate(83.22 552.8) scale(0.9761 1)" x="0.42 9.25 13.98 22.97" font-size="14.76">0.05</text>
<text transform="translate(64.16 646.16) rotate(-90) scale(1.0209 1)" x="0.29 8.85 17.83 31.06 43.31 52.04 59.51 66.66 75.05" font-size="14.56">nummasked</text>
</g>
<g>
<rect x="125" y="682.76" width="775" height="117.24" fill="#fff"/>
<clipPath id="c4"><rect x="125" y="682.76" width="775" height="117.24"/></clipPath>
<path d="M160.23 741.38 H864.77" stroke="#1f77b4" stroke-width="2.083" stroke-linecap="square" fill="none"/>
<path d="M149.5 800.5 v5 M259.5 800.5 v5 M370.5 800.5 v5 M480.5 800.5 v5 M590.5 800.5 v5 M700.5 800.5 v5 M810.5 800.5 v5 M125.5 795.5 h-5 M125.5 741.5 h-5 M125.5 688.5 h-5" stroke="#000" stroke-width="1.11" fill="none"/>
<path d="M125.5 800.5 V683.5 H900.5 V800.5 Z" stroke="#000" stroke-width="1.11" fill="none" stroke-linejoin="miter" stroke-linecap="square"/>
<text transform="translate(117.2 837.86) rotate(-30) scale(0.9753 1)" x="0.35 9.43 18.47 27.58" font-size="14.76">1950</text>
<text transform="translate(227.2 837.96) rotate(-30) scale(0.9984 1)" x="0.24 9.12 18 26.84" font-size="14.76">1960</text>
<text transform="translate(337.46 837.82) rotate(-30) scale(0.9842 1)" x="0.31 9.31 18.29 27.29" font-size="14.76">1970</text>
<text transform="translate(447.36 837.84) rotate(-30) scale(0.9924 1)" x="0.27 9.2 18.13 27.03" font-size="14.76">1980</text>
<text transform="translate(557.26 837.87) rotate(-30) scale(0.9979 1)" x="0.24 9.12 17.97 26.86" font-size="14.76">1990</text>
<text transform="translate(668.1 837.63) rotate(-30) scale(0.9832 1)" x="0.2 9.37 18.34 27.32" font-size="14.76">2000</text>
<text transform="translate(778.06 837.57) rotate(-30) scale(0.9725 1)" x="0.25 9.51 18.52 27.67" font-size="14.76">2010</text>
<text transform="translate(480.38 855.6) scale(1.0306 1)" x="0.35 7.53 16.47 20.22 23.85 32.83 37.78 41.8 54.5" font-size="14.56">validtime</text>
<text transform="translate(71.21 800.57) scale(1.0332 1)" x="1.32 11.42 19.88 24.23 32.73" font-size="14.76">−0.05</text>
<text transform="translate(84.34 747) scale(0.9935 1)" x="0.34 9.05 13.66 22.55" font-size="14.76">0.00</text>
<text transform="translate(83.33 693.91) scale(0.9761 1)" x="0.42 9.25 13.98 22.97" font-size="14.76">0.05</text>
<text transform="translate(64.01 773.05) rotate(-90) scale(1.0201 1)" x="0.32 8.89 17.89 30.82 38.75 47.77" font-size="14.45">numnan</text>
</g>
</svg>
</body></html>
